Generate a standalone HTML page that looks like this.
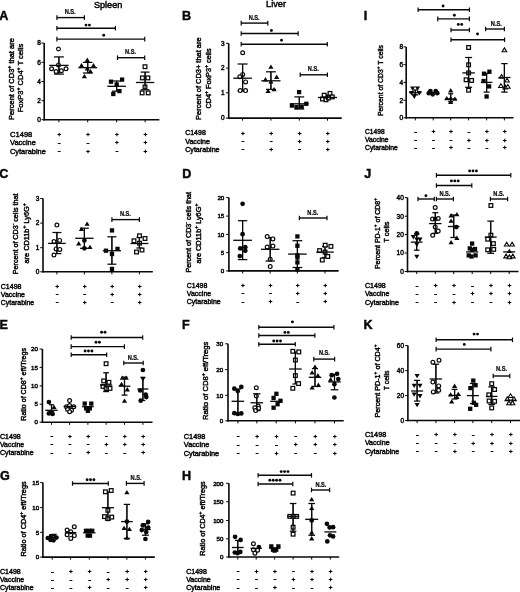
<!DOCTYPE html>
<html><head><meta charset="utf-8"><style>
html,body{margin:0;padding:0;background:#fff;}
body{width:520px;height:592px;overflow:hidden;}
svg{display:block;font-family:"Liberation Sans",sans-serif;filter:grayscale(1) blur(0.3px);}
svg text{fill:#080808;stroke:#080808;stroke-width:0.45px;}
</style></head><body>
<svg width="520" height="592" viewBox="0 0 520 592">
<rect width="520" height="592" fill="#fff"/>
<text x="108.1" y="7.5" font-size="9.25" text-anchor="middle" font-weight="normal" textLength="28.4" lengthAdjust="spacingAndGlyphs" style="stroke-width:0.5px">Spleen</text>
<text x="276.05" y="7.2" font-size="9.5" text-anchor="middle" font-weight="normal" textLength="20.1" lengthAdjust="spacingAndGlyphs" style="stroke-width:0.5px">Liver</text>
<text x="-0.8" y="20.42" font-size="12.6" font-weight="bold" text-anchor="start">A</text>
<g stroke="#080808" fill="none" stroke-linecap="butt">
<line x1="44.2" y1="43.1" x2="44.2" y2="120.5" stroke-width="1.6"/>
<line x1="43.4" y1="119.7" x2="159.4" y2="119.7" stroke-width="1.6"/>
<line x1="41.4" y1="43.1" x2="44.2" y2="43.1" stroke-width="1"/>
<line x1="41.4" y1="62.3" x2="44.2" y2="62.3" stroke-width="1"/>
<line x1="41.4" y1="81.5" x2="44.2" y2="81.5" stroke-width="1"/>
<line x1="41.4" y1="100.7" x2="44.2" y2="100.7" stroke-width="1"/>
<line x1="41.4" y1="119.7" x2="44.2" y2="119.7" stroke-width="1"/>
<line x1="58.9" y1="119.7" x2="58.9" y2="122.3" stroke-width="1"/>
<line x1="87.7" y1="119.7" x2="87.7" y2="122.3" stroke-width="1"/>
<line x1="116.6" y1="119.7" x2="116.6" y2="122.3" stroke-width="1"/>
<line x1="145.1" y1="119.7" x2="145.1" y2="122.3" stroke-width="1"/>
</g>
<text x="40.9" y="45.43" font-size="6.5" text-anchor="end" font-weight="normal">8</text>
<text x="40.9" y="64.63" font-size="6.5" text-anchor="end" font-weight="normal">6</text>
<text x="40.9" y="83.83" font-size="6.5" text-anchor="end" font-weight="normal">4</text>
<text x="40.9" y="103.03" font-size="6.5" text-anchor="end" font-weight="normal">2</text>
<text x="40.9" y="122.03" font-size="6.5" text-anchor="end" font-weight="normal">0</text>
<text transform="translate(13.7,79.05) rotate(-90)" x="-40.95" y="0" font-size="7" textLength="81.9" lengthAdjust="spacingAndGlyphs"><tspan font-size="7" dy="0">Percent of CD3</tspan><tspan font-size="4.76" dy="-2.94">+</tspan><tspan font-size="7" dy="2.94"> that are</tspan></text>
<text transform="translate(23.3,78.05) rotate(-90)" x="-34.25" y="0" font-size="7" textLength="68.5" lengthAdjust="spacingAndGlyphs"><tspan font-size="7" dy="0">FoxP3</tspan><tspan font-size="4.76" dy="-2.94">+</tspan><tspan font-size="7" dy="2.94"> CD4</tspan><tspan font-size="4.76" dy="-2.94">+</tspan><tspan font-size="7" dy="2.94"> T cells</tspan></text>
<text x="10" y="137" font-size="7.4" text-anchor="start" font-weight="normal" textLength="22.3" lengthAdjust="spacingAndGlyphs">C1498</text>
<text x="10" y="145.3" font-size="7.4" text-anchor="start" font-weight="normal" textLength="25.78" lengthAdjust="spacingAndGlyphs">Vaccine</text>
<text x="10" y="153.8" font-size="7.4" text-anchor="start" font-weight="normal" textLength="35.8" lengthAdjust="spacingAndGlyphs">Cytarabine</text>
<g stroke="#080808" stroke-width="1.05"><line x1="57.4" y1="134.5" x2="61" y2="134.5"/><line x1="59.2" y1="132.7" x2="59.2" y2="136.3"/></g>
<g stroke="#080808" stroke-width="1.05"><line x1="86.2" y1="134.5" x2="89.8" y2="134.5"/><line x1="88" y1="132.7" x2="88" y2="136.3"/></g>
<g stroke="#080808" stroke-width="1.05"><line x1="115.1" y1="134.5" x2="118.7" y2="134.5"/><line x1="116.9" y1="132.7" x2="116.9" y2="136.3"/></g>
<g stroke="#080808" stroke-width="1.05"><line x1="143.6" y1="134.5" x2="147.2" y2="134.5"/><line x1="145.4" y1="132.7" x2="145.4" y2="136.3"/></g>
<line x1="57.8" y1="143.5" x2="60.6" y2="143.5" stroke="#080808" stroke-width="1.0"/>
<line x1="86.6" y1="143.5" x2="89.4" y2="143.5" stroke="#080808" stroke-width="1.0"/>
<g stroke="#080808" stroke-width="1.05"><line x1="115.1" y1="142.5" x2="118.7" y2="142.5"/><line x1="116.9" y1="140.7" x2="116.9" y2="144.3"/></g>
<g stroke="#080808" stroke-width="1.05"><line x1="143.6" y1="142.5" x2="147.2" y2="142.5"/><line x1="145.4" y1="140.7" x2="145.4" y2="144.3"/></g>
<line x1="57.8" y1="151.5" x2="60.6" y2="151.5" stroke="#080808" stroke-width="1.0"/>
<g stroke="#080808" stroke-width="1.05"><line x1="86.2" y1="151.5" x2="89.8" y2="151.5"/><line x1="88" y1="149.7" x2="88" y2="153.3"/></g>
<line x1="115.5" y1="151.5" x2="118.3" y2="151.5" stroke="#080808" stroke-width="1.0"/>
<g stroke="#080808" stroke-width="1.05"><line x1="143.6" y1="151.5" x2="147.2" y2="151.5"/><line x1="145.4" y1="149.7" x2="145.4" y2="153.3"/></g>
<g stroke="#080808" fill="none">
<line x1="58.9" y1="56.9" x2="58.9" y2="74.1" stroke-width="1.15"/>
<line x1="53.9" y1="56.9" x2="63.9" y2="56.9" stroke-width="1.25"/>
<line x1="53.9" y1="74.1" x2="63.9" y2="74.1" stroke-width="1.25"/>
</g>
<g stroke="#080808">
<circle cx="58.5" cy="49" r="1.9" fill="#fff" stroke-width="1.2"/>
<circle cx="51.6" cy="68.8" r="1.9" fill="#fff" stroke-width="1.2"/>
<circle cx="56.1" cy="71.5" r="1.9" fill="#fff" stroke-width="1.2"/>
<circle cx="61.4" cy="70.7" r="1.9" fill="#fff" stroke-width="1.2"/>
<circle cx="66" cy="68.8" r="1.9" fill="#fff" stroke-width="1.2"/>
<circle cx="58.5" cy="64.9" r="1.9" fill="#fff" stroke-width="1.2"/>
</g>
<g stroke="#080808" fill="none">
<line x1="49.2" y1="65.4" x2="68.6" y2="65.4" stroke-width="1.3"/>
<line x1="58.9" y1="56.9" x2="58.9" y2="74.1" stroke-width="1.15"/>
</g>
<g stroke="#080808" fill="none">
<line x1="87.7" y1="62.4" x2="87.7" y2="73" stroke-width="1.15"/>
<line x1="82.9" y1="62.4" x2="92.5" y2="62.4" stroke-width="1.25"/>
<line x1="82.9" y1="73" x2="92.5" y2="73" stroke-width="1.25"/>
</g>
<g stroke="#080808">
<polygon points="87.3,57.6 89.9,61.9 84.7,61.9" fill="#080808" stroke="none"/>
<polygon points="81.5,62.9 84.1,67.2 78.9,67.2" fill="#080808" stroke="none"/>
<polygon points="93.5,62.9 96.1,67.2 90.9,67.2" fill="#080808" stroke="none"/>
<polygon points="87.3,66.1 89.9,70.4 84.7,70.4" fill="#080808" stroke="none"/>
<polygon points="90.5,69 93.1,73.3 87.9,73.3" fill="#080808" stroke="none"/>
<polygon points="84.4,74 87,78.3 81.8,78.3" fill="#080808" stroke="none"/>
</g>
<g stroke="#080808" fill="none">
<line x1="78.3" y1="67.7" x2="97.1" y2="67.7" stroke-width="1.3"/>
<line x1="87.7" y1="62.4" x2="87.7" y2="73" stroke-width="1.15"/>
</g>
<g stroke="#080808" fill="none">
<line x1="116.6" y1="81" x2="116.6" y2="91.2" stroke-width="1.15"/>
<line x1="112.1" y1="81" x2="121.1" y2="81" stroke-width="1.25"/>
<line x1="112.1" y1="91.2" x2="121.1" y2="91.2" stroke-width="1.25"/>
</g>
<g stroke="#080808">
<rect x="108.85" y="79.55" width="4.3" height="4.3" fill="#080808" stroke="none"/>
<rect x="119.95" y="77.45" width="4.3" height="4.3" fill="#080808" stroke="none"/>
<rect x="114.55" y="82.35" width="4.3" height="4.3" fill="#080808" stroke="none"/>
<rect x="117.25" y="88.95" width="4.3" height="4.3" fill="#080808" stroke="none"/>
<rect x="111.15" y="91.85" width="4.3" height="4.3" fill="#080808" stroke="none"/>
</g>
<g stroke="#080808" fill="none">
<line x1="107.3" y1="86.3" x2="125.9" y2="86.3" stroke-width="1.3"/>
<line x1="116.6" y1="81" x2="116.6" y2="91.2" stroke-width="1.15"/>
</g>
<g stroke="#080808" fill="none">
<line x1="145.1" y1="72.1" x2="145.1" y2="89.8" stroke-width="1.15"/>
<line x1="140.7" y1="72.1" x2="149.5" y2="72.1" stroke-width="1.25"/>
<line x1="140.7" y1="89.8" x2="149.5" y2="89.8" stroke-width="1.25"/>
</g>
<g stroke="#080808">
<rect x="143.15" y="64.85" width="3.7" height="3.7" fill="#fff" stroke-width="1.25"/>
<rect x="140.55" y="76.05" width="3.7" height="3.7" fill="#fff" stroke-width="1.25"/>
<rect x="146.05" y="76.05" width="3.7" height="3.7" fill="#fff" stroke-width="1.25"/>
<rect x="143.15" y="85.15" width="3.7" height="3.7" fill="#fff" stroke-width="1.25"/>
<rect x="140.25" y="91.05" width="3.7" height="3.7" fill="#fff" stroke-width="1.25"/>
<rect x="146.35" y="91.05" width="3.7" height="3.7" fill="#fff" stroke-width="1.25"/>
</g>
<g stroke="#080808" fill="none">
<line x1="135.9" y1="82.5" x2="154.3" y2="82.5" stroke-width="1.3"/>
<line x1="145.1" y1="72.1" x2="145.1" y2="89.8" stroke-width="1.15"/>
</g>
<g stroke="#080808" fill="none">
<line x1="56.9" y1="17.6" x2="84.4" y2="17.6" stroke-width="1.4"/>
<line x1="56.9" y1="15.3" x2="56.9" y2="19.9" stroke-width="1.2"/>
<line x1="84.4" y1="15.3" x2="84.4" y2="19.9" stroke-width="1.2"/>
</g>
<text x="70.2" y="13.86" font-size="6.3" text-anchor="middle" font-weight="bold" textLength="11" lengthAdjust="spacingAndGlyphs" style="stroke-width:0.2px">N.S.</text>
<g stroke="#080808" fill="none">
<line x1="56.9" y1="28.2" x2="115.4" y2="28.2" stroke-width="1.4"/>
<line x1="56.9" y1="25.9" x2="56.9" y2="30.5" stroke-width="1.2"/>
<line x1="115.4" y1="25.9" x2="115.4" y2="30.5" stroke-width="1.2"/>
</g>
<circle cx="86" cy="25.1" r="1.45" fill="#080808"/>
<circle cx="89.4" cy="25.1" r="1.45" fill="#080808"/>
<g stroke="#080808" fill="none">
<line x1="56.9" y1="39.1" x2="144.7" y2="39.1" stroke-width="1.4"/>
<line x1="56.9" y1="36.8" x2="56.9" y2="41.4" stroke-width="1.2"/>
<line x1="144.7" y1="36.8" x2="144.7" y2="41.4" stroke-width="1.2"/>
</g>
<circle cx="103.7" cy="35.2" r="1.45" fill="#080808"/>
<g stroke="#080808" fill="none">
<line x1="117.5" y1="57.7" x2="144.7" y2="57.7" stroke-width="1.4"/>
<line x1="117.5" y1="55.4" x2="117.5" y2="60" stroke-width="1.2"/>
<line x1="144.7" y1="55.4" x2="144.7" y2="60" stroke-width="1.2"/>
</g>
<text x="130.5" y="53.76" font-size="6.3" text-anchor="middle" font-weight="bold" textLength="11" lengthAdjust="spacingAndGlyphs" style="stroke-width:0.2px">N.S.</text>
<text x="182.1" y="20.22" font-size="12.6" font-weight="bold" text-anchor="start">B</text>
<g stroke="#080808" fill="none" stroke-linecap="butt">
<line x1="228.7" y1="43.3" x2="228.7" y2="118.9" stroke-width="1.6"/>
<line x1="227.9" y1="118.1" x2="341.7" y2="118.1" stroke-width="1.6"/>
<line x1="225.9" y1="43.3" x2="228.7" y2="43.3" stroke-width="1"/>
<line x1="225.9" y1="68.1" x2="228.7" y2="68.1" stroke-width="1"/>
<line x1="225.9" y1="92.8" x2="228.7" y2="92.8" stroke-width="1"/>
<line x1="225.9" y1="118.1" x2="228.7" y2="118.1" stroke-width="1"/>
<line x1="242.6" y1="118.1" x2="242.6" y2="120.7" stroke-width="1"/>
<line x1="270.9" y1="118.1" x2="270.9" y2="120.7" stroke-width="1"/>
<line x1="299.3" y1="118.1" x2="299.3" y2="120.7" stroke-width="1"/>
<line x1="327.5" y1="118.1" x2="327.5" y2="120.7" stroke-width="1"/>
</g>
<text x="224.6" y="45.63" font-size="6.5" text-anchor="end" font-weight="normal">3</text>
<text x="224.6" y="70.43" font-size="6.5" text-anchor="end" font-weight="normal">2</text>
<text x="224.6" y="95.13" font-size="6.5" text-anchor="end" font-weight="normal">1</text>
<text x="224.6" y="120.43" font-size="6.5" text-anchor="end" font-weight="normal">0</text>
<text transform="translate(200.7,78.65) rotate(-90)" x="-41.25" y="0" font-size="7" textLength="82.5" lengthAdjust="spacingAndGlyphs"><tspan font-size="7" dy="0">Percent of  CD3+ that are</tspan></text>
<text transform="translate(210.5,78.5) rotate(-90)" x="-30.1" y="0" font-size="7" textLength="60.2" lengthAdjust="spacingAndGlyphs"><tspan font-size="7" dy="0">CD4</tspan><tspan font-size="4.76" dy="-2.94">+</tspan><tspan font-size="7" dy="2.94"> FoxP3</tspan><tspan font-size="4.76" dy="-2.94">+</tspan><tspan font-size="7" dy="2.94"> cells</tspan></text>
<text x="185.2" y="135.4" font-size="7" text-anchor="start" font-weight="normal" textLength="20.6" lengthAdjust="spacingAndGlyphs">C1498</text>
<text x="185.2" y="143.8" font-size="7" text-anchor="start" font-weight="normal" textLength="24.78" lengthAdjust="spacingAndGlyphs">Vaccine</text>
<text x="185.2" y="151.5" font-size="7" text-anchor="start" font-weight="normal" textLength="34.4" lengthAdjust="spacingAndGlyphs">Cytarabine</text>
<g stroke="#080808" stroke-width="1.05"><line x1="241.1" y1="133.5" x2="244.7" y2="133.5"/><line x1="242.9" y1="131.7" x2="242.9" y2="135.3"/></g>
<g stroke="#080808" stroke-width="1.05"><line x1="269.4" y1="133.5" x2="273" y2="133.5"/><line x1="271.2" y1="131.7" x2="271.2" y2="135.3"/></g>
<g stroke="#080808" stroke-width="1.05"><line x1="297.8" y1="133.5" x2="301.4" y2="133.5"/><line x1="299.6" y1="131.7" x2="299.6" y2="135.3"/></g>
<g stroke="#080808" stroke-width="1.05"><line x1="326" y1="133.5" x2="329.6" y2="133.5"/><line x1="327.8" y1="131.7" x2="327.8" y2="135.3"/></g>
<line x1="241.5" y1="141.5" x2="244.3" y2="141.5" stroke="#080808" stroke-width="1.0"/>
<line x1="269.8" y1="141.5" x2="272.6" y2="141.5" stroke="#080808" stroke-width="1.0"/>
<g stroke="#080808" stroke-width="1.05"><line x1="297.8" y1="141.5" x2="301.4" y2="141.5"/><line x1="299.6" y1="139.7" x2="299.6" y2="143.3"/></g>
<g stroke="#080808" stroke-width="1.05"><line x1="326" y1="141.5" x2="329.6" y2="141.5"/><line x1="327.8" y1="139.7" x2="327.8" y2="143.3"/></g>
<line x1="241.5" y1="149.5" x2="244.3" y2="149.5" stroke="#080808" stroke-width="1.0"/>
<g stroke="#080808" stroke-width="1.05"><line x1="269.4" y1="149.5" x2="273" y2="149.5"/><line x1="271.2" y1="147.7" x2="271.2" y2="151.3"/></g>
<line x1="298.2" y1="149.5" x2="301" y2="149.5" stroke="#080808" stroke-width="1.0"/>
<g stroke="#080808" stroke-width="1.05"><line x1="326" y1="149.5" x2="329.6" y2="149.5"/><line x1="327.8" y1="147.7" x2="327.8" y2="151.3"/></g>
<g stroke="#080808" fill="none">
<line x1="242.6" y1="64" x2="242.6" y2="91" stroke-width="1.15"/>
<line x1="237.6" y1="64" x2="247.6" y2="64" stroke-width="1.25"/>
<line x1="237.6" y1="91" x2="247.6" y2="91" stroke-width="1.25"/>
</g>
<g stroke="#080808">
<circle cx="242.7" cy="52.8" r="1.9" fill="#fff" stroke-width="1.2"/>
<circle cx="242.7" cy="74.4" r="1.9" fill="#fff" stroke-width="1.2"/>
<circle cx="239.8" cy="76.7" r="1.9" fill="#fff" stroke-width="1.2"/>
<circle cx="245.6" cy="81.9" r="1.9" fill="#fff" stroke-width="1.2"/>
<circle cx="240.2" cy="90.6" r="1.9" fill="#fff" stroke-width="1.2"/>
<circle cx="245.6" cy="90.6" r="1.9" fill="#fff" stroke-width="1.2"/>
</g>
<g stroke="#080808" fill="none">
<line x1="233.3" y1="78.2" x2="251.9" y2="78.2" stroke-width="1.3"/>
<line x1="242.6" y1="64" x2="242.6" y2="91" stroke-width="1.15"/>
</g>
<g stroke="#080808" fill="none">
<line x1="270.9" y1="71.8" x2="270.9" y2="89.4" stroke-width="1.15"/>
<line x1="266" y1="71.8" x2="275.8" y2="71.8" stroke-width="1.25"/>
<line x1="266" y1="89.4" x2="275.8" y2="89.4" stroke-width="1.25"/>
</g>
<g stroke="#080808">
<polygon points="270.9,64.4 273.5,68.7 268.3,68.7" fill="#080808" stroke="none"/>
<polygon points="276.7,74.6 279.3,78.9 274.1,78.9" fill="#080808" stroke="none"/>
<polygon points="265.5,77.1 268.1,81.4 262.9,81.4" fill="#080808" stroke="none"/>
<polygon points="270.9,79.2 273.5,83.5 268.3,83.5" fill="#080808" stroke="none"/>
<polygon points="268.1,88.6 270.7,92.9 265.5,92.9" fill="#080808" stroke="none"/>
<polygon points="274.1,86.9 276.7,91.2 271.5,91.2" fill="#080808" stroke="none"/>
</g>
<g stroke="#080808" fill="none">
<line x1="261.3" y1="80.8" x2="280.5" y2="80.8" stroke-width="1.3"/>
<line x1="270.9" y1="71.8" x2="270.9" y2="89.4" stroke-width="1.15"/>
</g>
<g stroke="#080808" fill="none">
<line x1="299.3" y1="96.9" x2="299.3" y2="109" stroke-width="1.15"/>
<line x1="294.4" y1="96.9" x2="304.2" y2="96.9" stroke-width="1.25"/>
<line x1="294.4" y1="109" x2="304.2" y2="109" stroke-width="1.25"/>
</g>
<g stroke="#080808">
<rect x="296.95" y="89.95" width="4.3" height="4.3" fill="#080808" stroke="none"/>
<rect x="289.75" y="103.45" width="4.3" height="4.3" fill="#080808" stroke="none"/>
<rect x="304.15" y="101.65" width="4.3" height="4.3" fill="#080808" stroke="none"/>
<rect x="294.35" y="104.95" width="4.3" height="4.3" fill="#080808" stroke="none"/>
<rect x="299.55" y="104.55" width="4.3" height="4.3" fill="#080808" stroke="none"/>
</g>
<g stroke="#080808" fill="none">
<line x1="290.1" y1="103.8" x2="308.5" y2="103.8" stroke-width="1.3"/>
<line x1="299.3" y1="96.9" x2="299.3" y2="109" stroke-width="1.15"/>
</g>
<g stroke="#080808" fill="none">
<line x1="327.5" y1="95" x2="327.5" y2="99.5" stroke-width="1.15"/>
<line x1="324.5" y1="95" x2="330.5" y2="95" stroke-width="1.25"/>
<line x1="324.5" y1="99.5" x2="330.5" y2="99.5" stroke-width="1.25"/>
</g>
<g stroke="#080808">
<rect x="322.35" y="93.35" width="3.7" height="3.7" fill="#fff" stroke-width="1.25"/>
<rect x="328.15" y="91.55" width="3.7" height="3.7" fill="#fff" stroke-width="1.25"/>
<rect x="330.45" y="95.05" width="3.7" height="3.7" fill="#fff" stroke-width="1.25"/>
<rect x="320.65" y="97.15" width="3.7" height="3.7" fill="#fff" stroke-width="1.25"/>
<rect x="324.15" y="97.95" width="3.7" height="3.7" fill="#fff" stroke-width="1.25"/>
<rect x="326.45" y="96.15" width="3.7" height="3.7" fill="#fff" stroke-width="1.25"/>
</g>
<g stroke="#080808" fill="none">
<line x1="318" y1="97.5" x2="337" y2="97.5" stroke-width="1.3"/>
<line x1="327.5" y1="95" x2="327.5" y2="99.5" stroke-width="1.15"/>
</g>
<g stroke="#080808" fill="none">
<line x1="241.2" y1="23.1" x2="267.8" y2="23.1" stroke-width="1.4"/>
<line x1="241.2" y1="20.8" x2="241.2" y2="25.4" stroke-width="1.2"/>
<line x1="267.8" y1="20.8" x2="267.8" y2="25.4" stroke-width="1.2"/>
</g>
<text x="254.2" y="19.76" font-size="6.3" text-anchor="middle" font-weight="bold" textLength="11" lengthAdjust="spacingAndGlyphs" style="stroke-width:0.2px">N.S.</text>
<g stroke="#080808" fill="none">
<line x1="241.2" y1="33.5" x2="298.2" y2="33.5" stroke-width="1.4"/>
<line x1="241.2" y1="31.2" x2="241.2" y2="35.8" stroke-width="1.2"/>
<line x1="298.2" y1="31.2" x2="298.2" y2="35.8" stroke-width="1.2"/>
</g>
<circle cx="271.4" cy="30.5" r="1.45" fill="#080808"/>
<g stroke="#080808" fill="none">
<line x1="241.2" y1="44.3" x2="327.3" y2="44.3" stroke-width="1.4"/>
<line x1="241.2" y1="42" x2="241.2" y2="46.6" stroke-width="1.2"/>
<line x1="327.3" y1="42" x2="327.3" y2="46.6" stroke-width="1.2"/>
</g>
<circle cx="281.5" cy="40.3" r="1.45" fill="#080808"/>
<g stroke="#080808" fill="none">
<line x1="300.2" y1="74.8" x2="327.4" y2="74.8" stroke-width="1.4"/>
<line x1="300.2" y1="72.5" x2="300.2" y2="77.1" stroke-width="1.2"/>
<line x1="327.4" y1="72.5" x2="327.4" y2="77.1" stroke-width="1.2"/>
</g>
<text x="313.3" y="71.26" font-size="6.3" text-anchor="middle" font-weight="bold" textLength="11" lengthAdjust="spacingAndGlyphs" style="stroke-width:0.2px">N.S.</text>
<text x="365.4" y="20.22" font-size="12.6" font-weight="bold" text-anchor="middle">I</text>
<g stroke="#080808" fill="none" stroke-linecap="butt">
<line x1="406.2" y1="46.9" x2="406.2" y2="118.6" stroke-width="1.6"/>
<line x1="405.4" y1="117.8" x2="513.5" y2="117.8" stroke-width="1.6"/>
<line x1="403.4" y1="46.9" x2="406.2" y2="46.9" stroke-width="1"/>
<line x1="403.4" y1="64.7" x2="406.2" y2="64.7" stroke-width="1"/>
<line x1="403.4" y1="82.4" x2="406.2" y2="82.4" stroke-width="1"/>
<line x1="403.4" y1="100.3" x2="406.2" y2="100.3" stroke-width="1"/>
<line x1="403.4" y1="117.8" x2="406.2" y2="117.8" stroke-width="1"/>
<line x1="415.3" y1="117.8" x2="415.3" y2="120.4" stroke-width="1"/>
<line x1="433.2" y1="117.8" x2="433.2" y2="120.4" stroke-width="1"/>
<line x1="450.7" y1="117.8" x2="450.7" y2="120.4" stroke-width="1"/>
<line x1="468.6" y1="117.8" x2="468.6" y2="120.4" stroke-width="1"/>
<line x1="486.6" y1="117.8" x2="486.6" y2="120.4" stroke-width="1"/>
<line x1="504.4" y1="117.8" x2="504.4" y2="120.4" stroke-width="1"/>
</g>
<text x="403.2" y="49.23" font-size="6.5" text-anchor="end" font-weight="normal">8</text>
<text x="403.2" y="67.03" font-size="6.5" text-anchor="end" font-weight="normal">6</text>
<text x="403.2" y="84.73" font-size="6.5" text-anchor="end" font-weight="normal">4</text>
<text x="403.2" y="102.63" font-size="6.5" text-anchor="end" font-weight="normal">2</text>
<text x="403.2" y="120.13" font-size="6.5" text-anchor="end" font-weight="normal">0</text>
<text transform="translate(383.1,80.55) rotate(-90)" x="-35.55" y="0" font-size="7" textLength="71.1" lengthAdjust="spacingAndGlyphs"><tspan font-size="7" dy="0">Percent of CD3</tspan><tspan font-size="4.76" dy="-2.94">+</tspan><tspan font-size="7" dy="2.94"> T cells</tspan></text>
<text x="365.1" y="134.2" font-size="6.8" text-anchor="start" font-weight="normal" textLength="19.5" lengthAdjust="spacingAndGlyphs">C1498</text>
<text x="365.1" y="142.3" font-size="6.8" text-anchor="start" font-weight="normal" textLength="23.48" lengthAdjust="spacingAndGlyphs">Vaccine</text>
<text x="365.1" y="150" font-size="6.8" text-anchor="start" font-weight="normal" textLength="32.6" lengthAdjust="spacingAndGlyphs">Cytarabine</text>
<line x1="414.2" y1="132.5" x2="417" y2="132.5" stroke="#080808" stroke-width="1.0"/>
<g stroke="#080808" stroke-width="1.05"><line x1="431.7" y1="131.5" x2="435.3" y2="131.5"/><line x1="433.5" y1="129.7" x2="433.5" y2="133.3"/></g>
<g stroke="#080808" stroke-width="1.05"><line x1="449.2" y1="131.5" x2="452.8" y2="131.5"/><line x1="451" y1="129.7" x2="451" y2="133.3"/></g>
<line x1="467.5" y1="132.5" x2="470.3" y2="132.5" stroke="#080808" stroke-width="1.0"/>
<g stroke="#080808" stroke-width="1.05"><line x1="485.1" y1="131.5" x2="488.7" y2="131.5"/><line x1="486.9" y1="129.7" x2="486.9" y2="133.3"/></g>
<g stroke="#080808" stroke-width="1.05"><line x1="502.9" y1="131.5" x2="506.5" y2="131.5"/><line x1="504.7" y1="129.7" x2="504.7" y2="133.3"/></g>
<line x1="414.2" y1="140.5" x2="417" y2="140.5" stroke="#080808" stroke-width="1.0"/>
<line x1="432.1" y1="140.5" x2="434.9" y2="140.5" stroke="#080808" stroke-width="1.0"/>
<line x1="449.6" y1="140.5" x2="452.4" y2="140.5" stroke="#080808" stroke-width="1.0"/>
<g stroke="#080808" stroke-width="1.05"><line x1="467.1" y1="140.5" x2="470.7" y2="140.5"/><line x1="468.9" y1="138.7" x2="468.9" y2="142.3"/></g>
<g stroke="#080808" stroke-width="1.05"><line x1="485.1" y1="140.5" x2="488.7" y2="140.5"/><line x1="486.9" y1="138.7" x2="486.9" y2="142.3"/></g>
<g stroke="#080808" stroke-width="1.05"><line x1="502.9" y1="140.5" x2="506.5" y2="140.5"/><line x1="504.7" y1="138.7" x2="504.7" y2="142.3"/></g>
<line x1="414.2" y1="148.5" x2="417" y2="148.5" stroke="#080808" stroke-width="1.0"/>
<line x1="432.1" y1="148.5" x2="434.9" y2="148.5" stroke="#080808" stroke-width="1.0"/>
<g stroke="#080808" stroke-width="1.05"><line x1="449.2" y1="147.5" x2="452.8" y2="147.5"/><line x1="451" y1="145.7" x2="451" y2="149.3"/></g>
<line x1="467.5" y1="148.5" x2="470.3" y2="148.5" stroke="#080808" stroke-width="1.0"/>
<line x1="485.5" y1="148.5" x2="488.3" y2="148.5" stroke="#080808" stroke-width="1.0"/>
<g stroke="#080808" stroke-width="1.05"><line x1="502.9" y1="147.5" x2="506.5" y2="147.5"/><line x1="504.7" y1="145.7" x2="504.7" y2="149.3"/></g>
<g stroke="#080808" fill="none">
<line x1="415.3" y1="90" x2="415.3" y2="94.8" stroke-width="1.15"/>
<line x1="412.3" y1="90" x2="418.3" y2="90" stroke-width="1.25"/>
<line x1="412.3" y1="94.8" x2="418.3" y2="94.8" stroke-width="1.25"/>
</g>
<g stroke="#080808">
<polygon points="410,86.5 415.2,86.5 412.6,90.8" fill="#080808" stroke="none"/>
<polygon points="414.9,86.5 420.1,86.5 417.5,90.8" fill="#080808" stroke="none"/>
<polygon points="409,91.1 414.2,91.1 411.6,95.4" fill="#080808" stroke="none"/>
<polygon points="416.7,91.1 421.9,91.1 419.3,95.4" fill="#080808" stroke="none"/>
<polygon points="411.7,94.6 416.9,94.6 414.3,98.9" fill="#080808" stroke="none"/>
</g>
<g stroke="#080808" fill="none">
<line x1="409.2" y1="92.7" x2="421.4" y2="92.7" stroke-width="1.3"/>
<line x1="415.3" y1="90" x2="415.3" y2="94.8" stroke-width="1.15"/>
</g>
<g stroke="#080808" fill="none">
</g>
<g stroke="#080808">
<circle cx="430.4" cy="91.1" r="2.35" fill="#080808" stroke="none"/>
<circle cx="435.7" cy="91.1" r="2.35" fill="#080808" stroke="none"/>
<circle cx="428.8" cy="93.2" r="2.35" fill="#080808" stroke="none"/>
<circle cx="437.3" cy="93.2" r="2.35" fill="#080808" stroke="none"/>
<circle cx="432.7" cy="94.3" r="2.35" fill="#080808" stroke="none"/>
</g>
<g stroke="#080808" fill="none">
<line x1="427.7" y1="92.5" x2="438.7" y2="92.5" stroke-width="1.3"/>
</g>
<g stroke="#080808" fill="none">
<line x1="450.7" y1="93.8" x2="450.7" y2="101.7" stroke-width="1.15"/>
<line x1="448.2" y1="93.8" x2="453.2" y2="93.8" stroke-width="1.25"/>
<line x1="448.2" y1="101.7" x2="453.2" y2="101.7" stroke-width="1.25"/>
</g>
<g stroke="#080808">
<polygon points="450.7,88.1 453.3,92.4 448.1,92.4" fill="#080808" stroke="none"/>
<polygon points="446.8,96 449.4,100.3 444.2,100.3" fill="#080808" stroke="none"/>
<polygon points="454.9,96.5 457.5,100.8 452.3,100.8" fill="#080808" stroke="none"/>
<polygon points="450.7,96 453.3,100.3 448.1,100.3" fill="#080808" stroke="none"/>
<polygon points="450.7,99.8 453.3,104.1 448.1,104.1" fill="#080808" stroke="none"/>
</g>
<g stroke="#080808" fill="none">
<line x1="444.9" y1="99" x2="456.5" y2="99" stroke-width="1.3"/>
<line x1="450.7" y1="93.8" x2="450.7" y2="101.7" stroke-width="1.15"/>
</g>
<g stroke="#080808" fill="none">
<line x1="468.6" y1="57.5" x2="468.6" y2="87.3" stroke-width="1.15"/>
<line x1="465.1" y1="57.5" x2="472.1" y2="57.5" stroke-width="1.25"/>
<line x1="465.1" y1="87.3" x2="472.1" y2="87.3" stroke-width="1.25"/>
</g>
<g stroke="#080808">
<rect x="466.75" y="45.65" width="3.7" height="3.7" fill="#fff" stroke-width="1.25"/>
<rect x="466.75" y="62.95" width="3.7" height="3.7" fill="#fff" stroke-width="1.25"/>
<rect x="466.75" y="71.05" width="3.7" height="3.7" fill="#fff" stroke-width="1.25"/>
<rect x="464.25" y="77.95" width="3.7" height="3.7" fill="#fff" stroke-width="1.25"/>
<rect x="469.75" y="78.55" width="3.7" height="3.7" fill="#fff" stroke-width="1.25"/>
<rect x="466.75" y="88.35" width="3.7" height="3.7" fill="#fff" stroke-width="1.25"/>
</g>
<g stroke="#080808" fill="none">
<line x1="462.4" y1="72.9" x2="474.8" y2="72.9" stroke-width="1.3"/>
<line x1="468.6" y1="57.5" x2="468.6" y2="87.3" stroke-width="1.15"/>
</g>
<g stroke="#080808" fill="none">
<line x1="486.6" y1="73.4" x2="486.6" y2="92.1" stroke-width="1.15"/>
<line x1="483.6" y1="73.4" x2="489.6" y2="73.4" stroke-width="1.25"/>
<line x1="483.6" y1="92.1" x2="489.6" y2="92.1" stroke-width="1.25"/>
</g>
<g stroke="#080808">
<rect x="487.25" y="69.55" width="4.3" height="4.3" fill="#080808" stroke="none"/>
<rect x="481.85" y="71.55" width="4.3" height="4.3" fill="#080808" stroke="none"/>
<rect x="481.45" y="78.85" width="4.3" height="4.3" fill="#080808" stroke="none"/>
<rect x="486.95" y="84.25" width="4.3" height="4.3" fill="#080808" stroke="none"/>
<rect x="484.45" y="94.35" width="4.3" height="4.3" fill="#080808" stroke="none"/>
</g>
<g stroke="#080808" fill="none">
<line x1="480.8" y1="82.4" x2="492.4" y2="82.4" stroke-width="1.3"/>
<line x1="486.6" y1="73.4" x2="486.6" y2="92.1" stroke-width="1.15"/>
</g>
<g stroke="#080808" fill="none">
<line x1="504.4" y1="63.6" x2="504.4" y2="92.1" stroke-width="1.15"/>
<line x1="501.2" y1="63.6" x2="507.6" y2="63.6" stroke-width="1.25"/>
<line x1="501.2" y1="92.1" x2="507.6" y2="92.1" stroke-width="1.25"/>
</g>
<g stroke="#080808">
<polygon points="504.4,47.9 506.7,51.7 502.1,51.7" fill="#fff" stroke-width="1.1" stroke-linejoin="miter"/>
<polygon points="501.6,74.5 503.9,78.3 499.3,78.3" fill="#fff" stroke-width="1.1" stroke-linejoin="miter"/>
<polygon points="507,78.2 509.3,82 504.7,82" fill="#fff" stroke-width="1.1" stroke-linejoin="miter"/>
<polygon points="500.9,83.7 503.2,87.5 498.6,87.5" fill="#fff" stroke-width="1.1" stroke-linejoin="miter"/>
<polygon points="505.3,85.1 507.6,88.9 503,88.9" fill="#fff" stroke-width="1.1" stroke-linejoin="miter"/>
<polygon points="507.8,84.5 510.1,88.3 505.5,88.3" fill="#fff" stroke-width="1.1" stroke-linejoin="miter"/>
</g>
<g stroke="#080808" fill="none">
<line x1="498.4" y1="77.5" x2="510.4" y2="77.5" stroke-width="1.3"/>
<line x1="504.4" y1="63.6" x2="504.4" y2="92.1" stroke-width="1.15"/>
</g>
<g stroke="#080808" fill="none">
<line x1="418.1" y1="9.75" x2="469.4" y2="9.75" stroke-width="1.4"/>
<line x1="418.1" y1="7.45" x2="418.1" y2="12.05" stroke-width="1.2"/>
<line x1="469.4" y1="7.45" x2="469.4" y2="12.05" stroke-width="1.2"/>
</g>
<circle cx="443.1" cy="6" r="1.45" fill="#080808"/>
<g stroke="#080808" fill="none">
<line x1="437.75" y1="18.9" x2="469.4" y2="18.9" stroke-width="1.4"/>
<line x1="437.75" y1="16.6" x2="437.75" y2="21.2" stroke-width="1.2"/>
<line x1="469.4" y1="16.6" x2="469.4" y2="21.2" stroke-width="1.2"/>
</g>
<circle cx="454.4" cy="15.25" r="1.45" fill="#080808"/>
<g stroke="#080808" fill="none">
<line x1="451" y1="30" x2="469.4" y2="30" stroke-width="1.4"/>
<line x1="451" y1="27.7" x2="451" y2="32.3" stroke-width="1.2"/>
<line x1="469.4" y1="27.7" x2="469.4" y2="32.3" stroke-width="1.2"/>
</g>
<circle cx="458.3" cy="24.4" r="1.45" fill="#080808"/>
<circle cx="461.7" cy="24.4" r="1.45" fill="#080808"/>
<g stroke="#080808" fill="none">
<line x1="485.6" y1="29" x2="504.4" y2="29" stroke-width="1.4"/>
<line x1="485.6" y1="26.7" x2="485.6" y2="31.3" stroke-width="1.2"/>
<line x1="504.4" y1="26.7" x2="504.4" y2="31.3" stroke-width="1.2"/>
</g>
<text x="496.3" y="26.01" font-size="6.3" text-anchor="middle" font-weight="bold" textLength="11" lengthAdjust="spacingAndGlyphs" style="stroke-width:0.2px">N.S.</text>
<g stroke="#080808" fill="none">
<line x1="451" y1="39.75" x2="504.6" y2="39.75" stroke-width="1.4"/>
<line x1="451" y1="37.45" x2="451" y2="42.05" stroke-width="1.2"/>
<line x1="504.6" y1="37.45" x2="504.6" y2="42.05" stroke-width="1.2"/>
</g>
<circle cx="477.5" cy="34" r="1.45" fill="#080808"/>
<text x="-0.7" y="178.32" font-size="12.6" font-weight="bold" text-anchor="start">C</text>
<g stroke="#080808" fill="none" stroke-linecap="butt">
<line x1="43" y1="198.5" x2="43" y2="272.6" stroke-width="1.6"/>
<line x1="42.2" y1="271.8" x2="152.8" y2="271.8" stroke-width="1.6"/>
<line x1="40.2" y1="198.5" x2="43" y2="198.5" stroke-width="1"/>
<line x1="40.2" y1="223.1" x2="43" y2="223.1" stroke-width="1"/>
<line x1="40.2" y1="247.7" x2="43" y2="247.7" stroke-width="1"/>
<line x1="40.2" y1="271.8" x2="43" y2="271.8" stroke-width="1"/>
<line x1="56.9" y1="271.8" x2="56.9" y2="274.4" stroke-width="1"/>
<line x1="84.4" y1="271.8" x2="84.4" y2="274.4" stroke-width="1"/>
<line x1="111.9" y1="271.8" x2="111.9" y2="274.4" stroke-width="1"/>
<line x1="139.4" y1="271.8" x2="139.4" y2="274.4" stroke-width="1"/>
</g>
<text x="39.3" y="200.83" font-size="6.5" text-anchor="end" font-weight="normal">3</text>
<text x="39.3" y="225.43" font-size="6.5" text-anchor="end" font-weight="normal">2</text>
<text x="39.3" y="250.03" font-size="6.5" text-anchor="end" font-weight="normal">1</text>
<text x="39.3" y="274.13" font-size="6.5" text-anchor="end" font-weight="normal">0</text>
<text transform="translate(18.1,233.85) rotate(-90)" x="-40.35" y="0" font-size="7" textLength="80.7" lengthAdjust="spacingAndGlyphs"><tspan font-size="7" dy="0">Percent of CD3</tspan><tspan font-size="4.76" dy="-2.94">-</tspan><tspan font-size="7" dy="2.94"> cells that</tspan></text>
<text transform="translate(28.5,233.45) rotate(-90)" x="-30.05" y="0" font-size="7" textLength="60.1" lengthAdjust="spacingAndGlyphs"><tspan font-size="7" dy="0">are CD11b</tspan><tspan font-size="4.76" dy="-2.94">+</tspan><tspan font-size="7" dy="2.94"> Ly6G</tspan><tspan font-size="4.76" dy="-2.94">+</tspan></text>
<text x="0.8" y="288.8" font-size="7" text-anchor="start" font-weight="normal" textLength="20.7" lengthAdjust="spacingAndGlyphs">C1498</text>
<text x="0.8" y="296.5" font-size="7" text-anchor="start" font-weight="normal" textLength="24.06" lengthAdjust="spacingAndGlyphs">Vaccine</text>
<text x="0.8" y="304.5" font-size="7" text-anchor="start" font-weight="normal" textLength="33.4" lengthAdjust="spacingAndGlyphs">Cytarabine</text>
<g stroke="#080808" stroke-width="1.05"><line x1="55.4" y1="286.5" x2="59" y2="286.5"/><line x1="57.2" y1="284.7" x2="57.2" y2="288.3"/></g>
<g stroke="#080808" stroke-width="1.05"><line x1="82.9" y1="286.5" x2="86.5" y2="286.5"/><line x1="84.7" y1="284.7" x2="84.7" y2="288.3"/></g>
<g stroke="#080808" stroke-width="1.05"><line x1="110.4" y1="286.5" x2="114" y2="286.5"/><line x1="112.2" y1="284.7" x2="112.2" y2="288.3"/></g>
<g stroke="#080808" stroke-width="1.05"><line x1="137.9" y1="286.5" x2="141.5" y2="286.5"/><line x1="139.7" y1="284.7" x2="139.7" y2="288.3"/></g>
<line x1="55.8" y1="294.5" x2="58.6" y2="294.5" stroke="#080808" stroke-width="1.0"/>
<line x1="83.3" y1="294.5" x2="86.1" y2="294.5" stroke="#080808" stroke-width="1.0"/>
<g stroke="#080808" stroke-width="1.05"><line x1="110.4" y1="294.5" x2="114" y2="294.5"/><line x1="112.2" y1="292.7" x2="112.2" y2="296.3"/></g>
<g stroke="#080808" stroke-width="1.05"><line x1="137.9" y1="294.5" x2="141.5" y2="294.5"/><line x1="139.7" y1="292.7" x2="139.7" y2="296.3"/></g>
<line x1="55.8" y1="302.5" x2="58.6" y2="302.5" stroke="#080808" stroke-width="1.0"/>
<g stroke="#080808" stroke-width="1.05"><line x1="82.9" y1="302.5" x2="86.5" y2="302.5"/><line x1="84.7" y1="300.7" x2="84.7" y2="304.3"/></g>
<line x1="110.8" y1="302.5" x2="113.6" y2="302.5" stroke="#080808" stroke-width="1.0"/>
<g stroke="#080808" stroke-width="1.05"><line x1="137.9" y1="302.5" x2="141.5" y2="302.5"/><line x1="139.7" y1="300.7" x2="139.7" y2="304.3"/></g>
<g stroke="#080808" fill="none">
<line x1="56.9" y1="232.5" x2="56.9" y2="253.6" stroke-width="1.15"/>
<line x1="52.4" y1="232.5" x2="61.4" y2="232.5" stroke-width="1.25"/>
<line x1="52.4" y1="253.6" x2="61.4" y2="253.6" stroke-width="1.25"/>
</g>
<g stroke="#080808">
<circle cx="56.9" cy="225.1" r="1.9" fill="#fff" stroke-width="1.2"/>
<circle cx="54" cy="241.5" r="1.9" fill="#fff" stroke-width="1.2"/>
<circle cx="59.6" cy="240.4" r="1.9" fill="#fff" stroke-width="1.2"/>
<circle cx="56.1" cy="248.9" r="1.9" fill="#fff" stroke-width="1.2"/>
<circle cx="59.8" cy="249.4" r="1.9" fill="#fff" stroke-width="1.2"/>
<circle cx="54" cy="255" r="1.9" fill="#fff" stroke-width="1.2"/>
</g>
<g stroke="#080808" fill="none">
<line x1="48.1" y1="243.4" x2="65.7" y2="243.4" stroke-width="1.3"/>
<line x1="56.9" y1="232.5" x2="56.9" y2="253.6" stroke-width="1.15"/>
</g>
<g stroke="#080808" fill="none">
<line x1="84.4" y1="228.2" x2="84.4" y2="248.3" stroke-width="1.15"/>
<line x1="80" y1="228.2" x2="88.8" y2="228.2" stroke-width="1.25"/>
<line x1="80" y1="248.3" x2="88.8" y2="248.3" stroke-width="1.25"/>
</g>
<g stroke="#080808">
<polygon points="87.1,221.5 89.7,225.8 84.5,225.8" fill="#080808" stroke="none"/>
<polygon points="81.5,226.8 84.1,231.1 78.9,231.1" fill="#080808" stroke="none"/>
<circle cx="84.4" cy="240.4" r="2.35" fill="#080808" stroke="none"/>
<polygon points="78.7,241.1 81.3,245.4 76.1,245.4" fill="#080808" stroke="none"/>
<polygon points="90,244.8 92.6,249.1 87.4,249.1" fill="#080808" stroke="none"/>
<circle cx="84.4" cy="248.3" r="2.35" fill="#080808" stroke="none"/>
</g>
<g stroke="#080808" fill="none">
<line x1="75.2" y1="238.3" x2="93.6" y2="238.3" stroke-width="1.3"/>
<line x1="84.4" y1="228.2" x2="84.4" y2="248.3" stroke-width="1.15"/>
</g>
<g stroke="#080808" fill="none">
<line x1="111.9" y1="236.8" x2="111.9" y2="264.2" stroke-width="1.15"/>
<line x1="107.4" y1="236.8" x2="116.4" y2="236.8" stroke-width="1.25"/>
<line x1="107.4" y1="264.2" x2="116.4" y2="264.2" stroke-width="1.25"/>
</g>
<g stroke="#080808">
<rect x="109.85" y="228.25" width="4.3" height="4.3" fill="#080808" stroke="none"/>
<rect x="103.85" y="248.55" width="4.3" height="4.3" fill="#080808" stroke="none"/>
<rect x="115.35" y="246.75" width="4.3" height="4.3" fill="#080808" stroke="none"/>
<rect x="109.85" y="251.85" width="4.3" height="4.3" fill="#080808" stroke="none"/>
<rect x="109.85" y="266.75" width="4.3" height="4.3" fill="#080808" stroke="none"/>
</g>
<g stroke="#080808" fill="none">
<line x1="102.8" y1="250.7" x2="121" y2="250.7" stroke-width="1.3"/>
<line x1="111.9" y1="236.8" x2="111.9" y2="264.2" stroke-width="1.15"/>
</g>
<g stroke="#080808" fill="none">
<line x1="139.4" y1="237.2" x2="139.4" y2="248" stroke-width="1.15"/>
<line x1="136.4" y1="237.2" x2="142.4" y2="237.2" stroke-width="1.25"/>
<line x1="136.4" y1="248" x2="142.4" y2="248" stroke-width="1.25"/>
</g>
<g stroke="#080808">
<rect x="137.65" y="233.95" width="3.7" height="3.7" fill="#fff" stroke-width="1.25"/>
<rect x="143.15" y="236.65" width="3.7" height="3.7" fill="#fff" stroke-width="1.25"/>
<rect x="132.15" y="238.95" width="3.7" height="3.7" fill="#fff" stroke-width="1.25"/>
<rect x="137.65" y="241.35" width="3.7" height="3.7" fill="#fff" stroke-width="1.25"/>
<rect x="134.65" y="250.15" width="3.7" height="3.7" fill="#fff" stroke-width="1.25"/>
<rect x="140.15" y="248.15" width="3.7" height="3.7" fill="#fff" stroke-width="1.25"/>
</g>
<g stroke="#080808" fill="none">
<line x1="130.4" y1="243.5" x2="148.4" y2="243.5" stroke-width="1.3"/>
<line x1="139.4" y1="237.2" x2="139.4" y2="248" stroke-width="1.15"/>
</g>
<g stroke="#080808" fill="none">
<line x1="111.9" y1="219.6" x2="139.4" y2="219.6" stroke-width="1.4"/>
<line x1="111.9" y1="217.3" x2="111.9" y2="221.9" stroke-width="1.2"/>
<line x1="139.4" y1="217.3" x2="139.4" y2="221.9" stroke-width="1.2"/>
</g>
<text x="125.4" y="215.76" font-size="6.3" text-anchor="middle" font-weight="bold" textLength="11" lengthAdjust="spacingAndGlyphs" style="stroke-width:0.2px">N.S.</text>
<text x="182.3" y="178.42" font-size="12.6" font-weight="bold" text-anchor="start">D</text>
<g stroke="#080808" fill="none" stroke-linecap="butt">
<line x1="228.9" y1="197.6" x2="228.9" y2="271.7" stroke-width="1.6"/>
<line x1="228.1" y1="270.9" x2="338.6" y2="270.9" stroke-width="1.6"/>
<line x1="226.1" y1="197.6" x2="228.9" y2="197.6" stroke-width="1"/>
<line x1="226.1" y1="216.1" x2="228.9" y2="216.1" stroke-width="1"/>
<line x1="226.1" y1="234.4" x2="228.9" y2="234.4" stroke-width="1"/>
<line x1="226.1" y1="252.6" x2="228.9" y2="252.6" stroke-width="1"/>
<line x1="226.1" y1="270.9" x2="228.9" y2="270.9" stroke-width="1"/>
<line x1="242.6" y1="270.9" x2="242.6" y2="273.5" stroke-width="1"/>
<line x1="270.2" y1="270.9" x2="270.2" y2="273.5" stroke-width="1"/>
<line x1="297.4" y1="270.9" x2="297.4" y2="273.5" stroke-width="1"/>
<line x1="325" y1="270.9" x2="325" y2="273.5" stroke-width="1"/>
</g>
<text x="224.3" y="199.82" font-size="6.2" text-anchor="end" font-weight="normal">20</text>
<text x="224.3" y="218.32" font-size="6.2" text-anchor="end" font-weight="normal">15</text>
<text x="224.3" y="236.62" font-size="6.2" text-anchor="end" font-weight="normal">10</text>
<text x="224.3" y="254.82" font-size="6.2" text-anchor="end" font-weight="normal">5</text>
<text x="224.3" y="273.12" font-size="6.2" text-anchor="end" font-weight="normal">0</text>
<text transform="translate(190.8,232.25) rotate(-90)" x="-40.35" y="0" font-size="7" textLength="80.7" lengthAdjust="spacingAndGlyphs"><tspan font-size="7" dy="0">Percent of CD3</tspan><tspan font-size="4.76" dy="-2.94">-</tspan><tspan font-size="7" dy="2.94"> cells that</tspan></text>
<text transform="translate(200.5,233.65) rotate(-90)" x="-29.95" y="0" font-size="7" textLength="59.9" lengthAdjust="spacingAndGlyphs"><tspan font-size="7" dy="0">are CD11b</tspan><tspan font-size="4.76" dy="-2.94">+</tspan><tspan font-size="7" dy="2.94"> Ly6G</tspan><tspan font-size="4.76" dy="-2.94">+</tspan></text>
<text x="186.8" y="287.6" font-size="7" text-anchor="start" font-weight="normal" textLength="20.5" lengthAdjust="spacingAndGlyphs">C1498</text>
<text x="186.8" y="295.8" font-size="7" text-anchor="start" font-weight="normal" textLength="24.42" lengthAdjust="spacingAndGlyphs">Vaccine</text>
<text x="186.8" y="303.9" font-size="7" text-anchor="start" font-weight="normal" textLength="33.9" lengthAdjust="spacingAndGlyphs">Cytarabine</text>
<g stroke="#080808" stroke-width="1.05"><line x1="241.1" y1="285.5" x2="244.7" y2="285.5"/><line x1="242.9" y1="283.7" x2="242.9" y2="287.3"/></g>
<g stroke="#080808" stroke-width="1.05"><line x1="268.7" y1="285.5" x2="272.3" y2="285.5"/><line x1="270.5" y1="283.7" x2="270.5" y2="287.3"/></g>
<g stroke="#080808" stroke-width="1.05"><line x1="295.9" y1="285.5" x2="299.5" y2="285.5"/><line x1="297.7" y1="283.7" x2="297.7" y2="287.3"/></g>
<g stroke="#080808" stroke-width="1.05"><line x1="323.5" y1="285.5" x2="327.1" y2="285.5"/><line x1="325.3" y1="283.7" x2="325.3" y2="287.3"/></g>
<line x1="241.5" y1="293.5" x2="244.3" y2="293.5" stroke="#080808" stroke-width="1.0"/>
<line x1="269.1" y1="293.5" x2="271.9" y2="293.5" stroke="#080808" stroke-width="1.0"/>
<g stroke="#080808" stroke-width="1.05"><line x1="295.9" y1="293.5" x2="299.5" y2="293.5"/><line x1="297.7" y1="291.7" x2="297.7" y2="295.3"/></g>
<g stroke="#080808" stroke-width="1.05"><line x1="323.5" y1="293.5" x2="327.1" y2="293.5"/><line x1="325.3" y1="291.7" x2="325.3" y2="295.3"/></g>
<line x1="241.5" y1="302.5" x2="244.3" y2="302.5" stroke="#080808" stroke-width="1.0"/>
<g stroke="#080808" stroke-width="1.05"><line x1="268.7" y1="301.5" x2="272.3" y2="301.5"/><line x1="270.5" y1="299.7" x2="270.5" y2="303.3"/></g>
<line x1="296.3" y1="302.5" x2="299.1" y2="302.5" stroke="#080808" stroke-width="1.0"/>
<g stroke="#080808" stroke-width="1.05"><line x1="323.5" y1="301.5" x2="327.1" y2="301.5"/><line x1="325.3" y1="299.7" x2="325.3" y2="303.3"/></g>
<g stroke="#080808" fill="none">
<line x1="242.6" y1="220.7" x2="242.6" y2="259.6" stroke-width="1.15"/>
<line x1="237.9" y1="220.7" x2="247.3" y2="220.7" stroke-width="1.25"/>
<line x1="237.9" y1="259.6" x2="247.3" y2="259.6" stroke-width="1.25"/>
</g>
<g stroke="#080808">
<circle cx="242.6" cy="203.8" r="2.35" fill="#080808" stroke="none"/>
<circle cx="242.6" cy="234.2" r="2.35" fill="#080808" stroke="none"/>
<circle cx="240.2" cy="248.4" r="2.35" fill="#080808" stroke="none"/>
<circle cx="245.3" cy="247.2" r="2.35" fill="#080808" stroke="none"/>
<circle cx="245.3" cy="250.8" r="2.35" fill="#080808" stroke="none"/>
<circle cx="239.8" cy="256.1" r="2.35" fill="#080808" stroke="none"/>
</g>
<g stroke="#080808" fill="none">
<line x1="233.3" y1="240.3" x2="251.9" y2="240.3" stroke-width="1.3"/>
<line x1="242.6" y1="220.7" x2="242.6" y2="259.6" stroke-width="1.15"/>
</g>
<g stroke="#080808" fill="none">
<line x1="270.2" y1="237.5" x2="270.2" y2="261" stroke-width="1.15"/>
<line x1="265.5" y1="237.5" x2="274.9" y2="237.5" stroke-width="1.25"/>
<line x1="265.5" y1="261" x2="274.9" y2="261" stroke-width="1.25"/>
</g>
<g stroke="#080808">
<circle cx="267.2" cy="236.6" r="1.9" fill="#fff" stroke-width="1.2"/>
<circle cx="272.9" cy="238.9" r="1.9" fill="#fff" stroke-width="1.2"/>
<circle cx="267.2" cy="247" r="1.9" fill="#fff" stroke-width="1.2"/>
<circle cx="272.9" cy="246.1" r="1.9" fill="#fff" stroke-width="1.2"/>
<circle cx="270.2" cy="259.2" r="1.9" fill="#fff" stroke-width="1.2"/>
<circle cx="270.2" cy="266.6" r="1.9" fill="#fff" stroke-width="1.2"/>
</g>
<g stroke="#080808" fill="none">
<line x1="261" y1="249.3" x2="279.4" y2="249.3" stroke-width="1.3"/>
<line x1="270.2" y1="237.5" x2="270.2" y2="261" stroke-width="1.15"/>
</g>
<g stroke="#080808" fill="none">
<line x1="297.4" y1="240.7" x2="297.4" y2="267.5" stroke-width="1.15"/>
<line x1="292.5" y1="240.7" x2="302.3" y2="240.7" stroke-width="1.25"/>
<line x1="292.5" y1="267.5" x2="302.3" y2="267.5" stroke-width="1.25"/>
</g>
<g stroke="#080808">
<rect x="295.25" y="234.25" width="4.3" height="4.3" fill="#080808" stroke="none"/>
<rect x="295.25" y="243.65" width="4.3" height="4.3" fill="#080808" stroke="none"/>
<rect x="295.25" y="253.05" width="4.3" height="4.3" fill="#080808" stroke="none"/>
<rect x="295.25" y="255.35" width="4.3" height="4.3" fill="#080808" stroke="none"/>
<rect x="295.25" y="260.25" width="4.3" height="4.3" fill="#080808" stroke="none"/>
<rect x="295.25" y="267.35" width="4.3" height="4.3" fill="#080808" stroke="none"/>
</g>
<g stroke="#080808" fill="none">
<line x1="288.1" y1="254.1" x2="306.7" y2="254.1" stroke-width="1.3"/>
<line x1="297.4" y1="240.7" x2="297.4" y2="267.5" stroke-width="1.15"/>
</g>
<g stroke="#080808" fill="none">
<line x1="325" y1="246.4" x2="325" y2="257.5" stroke-width="1.15"/>
<line x1="322" y1="246.4" x2="328" y2="246.4" stroke-width="1.25"/>
<line x1="322" y1="257.5" x2="328" y2="257.5" stroke-width="1.25"/>
</g>
<g stroke="#080808">
<rect x="323.35" y="243.35" width="3.7" height="3.7" fill="#fff" stroke-width="1.25"/>
<rect x="329.05" y="244.55" width="3.7" height="3.7" fill="#fff" stroke-width="1.25"/>
<rect x="317.75" y="248.75" width="3.7" height="3.7" fill="#fff" stroke-width="1.25"/>
<rect x="323.15" y="250.25" width="3.7" height="3.7" fill="#fff" stroke-width="1.25"/>
<rect x="325.95" y="254.65" width="3.7" height="3.7" fill="#fff" stroke-width="1.25"/>
<rect x="320.45" y="258.15" width="3.7" height="3.7" fill="#fff" stroke-width="1.25"/>
</g>
<g stroke="#080808" fill="none">
<line x1="316.2" y1="252.1" x2="333.8" y2="252.1" stroke-width="1.3"/>
<line x1="325" y1="246.4" x2="325" y2="257.5" stroke-width="1.15"/>
</g>
<g stroke="#080808" fill="none">
<line x1="299.4" y1="218" x2="327" y2="218" stroke-width="1.4"/>
<line x1="299.4" y1="215.7" x2="299.4" y2="220.3" stroke-width="1.2"/>
<line x1="327" y1="215.7" x2="327" y2="220.3" stroke-width="1.2"/>
</g>
<text x="312.8" y="214.96" font-size="6.3" text-anchor="middle" font-weight="bold" textLength="11" lengthAdjust="spacingAndGlyphs" style="stroke-width:0.2px">N.S.</text>
<text x="364.2" y="178.22" font-size="12.6" font-weight="bold" text-anchor="start">J</text>
<g stroke="#080808" fill="none" stroke-linecap="butt">
<line x1="407.5" y1="197.6" x2="407.5" y2="272.3" stroke-width="1.6"/>
<line x1="406.7" y1="271.5" x2="518.5" y2="271.5" stroke-width="1.6"/>
<line x1="404.7" y1="197.6" x2="407.5" y2="197.6" stroke-width="1"/>
<line x1="404.7" y1="216.2" x2="407.5" y2="216.2" stroke-width="1"/>
<line x1="404.7" y1="234.6" x2="407.5" y2="234.6" stroke-width="1"/>
<line x1="404.7" y1="253" x2="407.5" y2="253" stroke-width="1"/>
<line x1="404.7" y1="271.5" x2="407.5" y2="271.5" stroke-width="1"/>
<line x1="416.7" y1="271.5" x2="416.7" y2="274.1" stroke-width="1"/>
<line x1="435.3" y1="271.5" x2="435.3" y2="274.1" stroke-width="1"/>
<line x1="453.7" y1="271.5" x2="453.7" y2="274.1" stroke-width="1"/>
<line x1="472.2" y1="271.5" x2="472.2" y2="274.1" stroke-width="1"/>
<line x1="490.7" y1="271.5" x2="490.7" y2="274.1" stroke-width="1"/>
<line x1="509.2" y1="271.5" x2="509.2" y2="274.1" stroke-width="1"/>
</g>
<text x="403.8" y="199.93" font-size="6.5" text-anchor="end" font-weight="normal">40</text>
<text x="403.8" y="218.53" font-size="6.5" text-anchor="end" font-weight="normal">30</text>
<text x="403.8" y="236.93" font-size="6.5" text-anchor="end" font-weight="normal">20</text>
<text x="403.8" y="255.33" font-size="6.5" text-anchor="end" font-weight="normal">10</text>
<text x="403.8" y="273.83" font-size="6.5" text-anchor="end" font-weight="normal">0</text>
<text transform="translate(380.3,233.55) rotate(-90)" x="-35.55" y="0" font-size="7" textLength="71.1" lengthAdjust="spacingAndGlyphs"><tspan font-size="7" dy="0">Percent PD-1</tspan><tspan font-size="4.76" dy="-2.94">+</tspan><tspan font-size="7" dy="2.94"> of CD8</tspan><tspan font-size="4.76" dy="-2.94">+</tspan></text>
<text transform="translate(388.8,232.1) rotate(-90)" x="-10.5" y="0" font-size="7" textLength="21" lengthAdjust="spacingAndGlyphs"><tspan font-size="7" dy="0">T cells</tspan></text>
<text x="364.9" y="288.1" font-size="7" text-anchor="start" font-weight="normal" textLength="20.9" lengthAdjust="spacingAndGlyphs">C1498</text>
<text x="364.9" y="296.2" font-size="7" text-anchor="start" font-weight="normal" textLength="24.42" lengthAdjust="spacingAndGlyphs">Vaccine</text>
<text x="364.9" y="304.5" font-size="7" text-anchor="start" font-weight="normal" textLength="33.9" lengthAdjust="spacingAndGlyphs">Cytarabine</text>
<line x1="415.6" y1="286.5" x2="418.4" y2="286.5" stroke="#080808" stroke-width="1.0"/>
<g stroke="#080808" stroke-width="1.05"><line x1="433.8" y1="285.5" x2="437.4" y2="285.5"/><line x1="435.6" y1="283.7" x2="435.6" y2="287.3"/></g>
<g stroke="#080808" stroke-width="1.05"><line x1="452.2" y1="285.5" x2="455.8" y2="285.5"/><line x1="454" y1="283.7" x2="454" y2="287.3"/></g>
<line x1="471.1" y1="286.5" x2="473.9" y2="286.5" stroke="#080808" stroke-width="1.0"/>
<g stroke="#080808" stroke-width="1.05"><line x1="489.2" y1="285.5" x2="492.8" y2="285.5"/><line x1="491" y1="283.7" x2="491" y2="287.3"/></g>
<g stroke="#080808" stroke-width="1.05"><line x1="507.7" y1="285.5" x2="511.3" y2="285.5"/><line x1="509.5" y1="283.7" x2="509.5" y2="287.3"/></g>
<line x1="415.6" y1="294.5" x2="418.4" y2="294.5" stroke="#080808" stroke-width="1.0"/>
<line x1="434.2" y1="294.5" x2="437" y2="294.5" stroke="#080808" stroke-width="1.0"/>
<line x1="452.6" y1="294.5" x2="455.4" y2="294.5" stroke="#080808" stroke-width="1.0"/>
<g stroke="#080808" stroke-width="1.05"><line x1="470.7" y1="293.5" x2="474.3" y2="293.5"/><line x1="472.5" y1="291.7" x2="472.5" y2="295.3"/></g>
<g stroke="#080808" stroke-width="1.05"><line x1="489.2" y1="293.5" x2="492.8" y2="293.5"/><line x1="491" y1="291.7" x2="491" y2="295.3"/></g>
<g stroke="#080808" stroke-width="1.05"><line x1="507.7" y1="293.5" x2="511.3" y2="293.5"/><line x1="509.5" y1="291.7" x2="509.5" y2="295.3"/></g>
<line x1="415.6" y1="302.5" x2="418.4" y2="302.5" stroke="#080808" stroke-width="1.0"/>
<line x1="434.2" y1="302.5" x2="437" y2="302.5" stroke="#080808" stroke-width="1.0"/>
<g stroke="#080808" stroke-width="1.05"><line x1="452.2" y1="302.5" x2="455.8" y2="302.5"/><line x1="454" y1="300.7" x2="454" y2="304.3"/></g>
<line x1="471.1" y1="302.5" x2="473.9" y2="302.5" stroke="#080808" stroke-width="1.0"/>
<line x1="489.6" y1="302.5" x2="492.4" y2="302.5" stroke="#080808" stroke-width="1.0"/>
<g stroke="#080808" stroke-width="1.05"><line x1="507.7" y1="302.5" x2="511.3" y2="302.5"/><line x1="509.5" y1="300.7" x2="509.5" y2="304.3"/></g>
<g stroke="#080808" fill="none">
<line x1="416.7" y1="234" x2="416.7" y2="250.2" stroke-width="1.15"/>
<line x1="413.9" y1="234" x2="419.5" y2="234" stroke-width="1.25"/>
<line x1="413.9" y1="250.2" x2="419.5" y2="250.2" stroke-width="1.25"/>
</g>
<g stroke="#080808">
<circle cx="416.8" cy="233.4" r="2.35" fill="#080808" stroke="none"/>
<polygon points="410.7,235.1 415.9,235.1 413.3,239.4" fill="#080808" stroke="none"/>
<polygon points="417.4,237.6 422.6,237.6 420,241.9" fill="#080808" stroke="none"/>
<polygon points="414.2,237.4 419.4,237.4 416.8,241.7" fill="#080808" stroke="none"/>
<polygon points="414.2,242.6 419.4,242.6 416.8,246.9" fill="#080808" stroke="none"/>
<polygon points="414.2,254.7 419.4,254.7 416.8,259" fill="#080808" stroke="none"/>
</g>
<g stroke="#080808" fill="none">
<line x1="410.9" y1="242.1" x2="422.5" y2="242.1" stroke-width="1.3"/>
<line x1="416.7" y1="234" x2="416.7" y2="250.2" stroke-width="1.15"/>
</g>
<g stroke="#080808" fill="none">
<line x1="435.3" y1="212.7" x2="435.3" y2="233.4" stroke-width="1.15"/>
<line x1="432.3" y1="212.7" x2="438.3" y2="212.7" stroke-width="1.25"/>
<line x1="432.3" y1="233.4" x2="438.3" y2="233.4" stroke-width="1.25"/>
</g>
<g stroke="#080808">
<circle cx="435.2" cy="207.5" r="1.9" fill="#fff" stroke-width="1.2"/>
<circle cx="432.5" cy="219" r="1.9" fill="#fff" stroke-width="1.2"/>
<circle cx="438.2" cy="218.5" r="1.9" fill="#fff" stroke-width="1.2"/>
<circle cx="435.2" cy="219" r="2.35" fill="#080808" stroke="none"/>
<circle cx="435.2" cy="227.1" r="1.9" fill="#fff" stroke-width="1.2"/>
<circle cx="438.2" cy="231.1" r="1.9" fill="#fff" stroke-width="1.2"/>
<circle cx="432.7" cy="235.2" r="1.9" fill="#fff" stroke-width="1.2"/>
</g>
<g stroke="#080808" fill="none">
<line x1="429.1" y1="223.6" x2="441.5" y2="223.6" stroke-width="1.3"/>
<line x1="435.3" y1="212.7" x2="435.3" y2="233.4" stroke-width="1.15"/>
</g>
<g stroke="#080808" fill="none">
<line x1="453.7" y1="215" x2="453.7" y2="237.5" stroke-width="1.15"/>
<line x1="450.3" y1="215" x2="457.1" y2="215" stroke-width="1.25"/>
<line x1="450.3" y1="237.5" x2="457.1" y2="237.5" stroke-width="1.25"/>
</g>
<g stroke="#080808">
<polygon points="456.9,211.9 459.5,216.2 454.3,216.2" fill="#080808" stroke="none"/>
<polygon points="451.1,213.1 453.7,217.4 448.5,217.4" fill="#080808" stroke="none"/>
<polygon points="451.1,218.5 453.7,222.8 448.5,222.8" fill="#080808" stroke="none"/>
<circle cx="456.3" cy="227.1" r="2.35" fill="#080808" stroke="none"/>
<polygon points="456.9,235.6 459.5,239.9 454.3,239.9" fill="#080808" stroke="none"/>
<polygon points="451.1,239.9 453.7,244.2 448.5,244.2" fill="#080808" stroke="none"/>
</g>
<g stroke="#080808" fill="none">
<line x1="447.9" y1="226.5" x2="459.5" y2="226.5" stroke-width="1.3"/>
<line x1="453.7" y1="215" x2="453.7" y2="237.5" stroke-width="1.15"/>
</g>
<g stroke="#080808" fill="none">
</g>
<g stroke="#080808">
<rect x="469.95" y="241.45" width="4.3" height="4.3" fill="#080808" stroke="none"/>
<rect x="467.65" y="246.25" width="4.3" height="4.3" fill="#080808" stroke="none"/>
<rect x="472.85" y="246.85" width="4.3" height="4.3" fill="#080808" stroke="none"/>
<rect x="469.95" y="247.65" width="4.3" height="4.3" fill="#080808" stroke="none"/>
<rect x="466.55" y="253.25" width="4.3" height="4.3" fill="#080808" stroke="none"/>
<rect x="469.35" y="254.35" width="4.3" height="4.3" fill="#080808" stroke="none"/>
<rect x="473.45" y="253.25" width="4.3" height="4.3" fill="#080808" stroke="none"/>
</g>
<g stroke="#080808" fill="none">
<line x1="466.1" y1="251.9" x2="478.3" y2="251.9" stroke-width="1.3"/>
</g>
<g stroke="#080808" fill="none">
<line x1="490.7" y1="221.1" x2="490.7" y2="253.3" stroke-width="1.15"/>
<line x1="487.3" y1="221.1" x2="494.1" y2="221.1" stroke-width="1.25"/>
<line x1="487.3" y1="253.3" x2="494.1" y2="253.3" stroke-width="1.25"/>
</g>
<g stroke="#080808">
<rect x="489.05" y="203.65" width="3.7" height="3.7" fill="#fff" stroke-width="1.25"/>
<rect x="489.05" y="233.35" width="3.7" height="3.7" fill="#fff" stroke-width="1.25"/>
<rect x="485.85" y="237.35" width="3.7" height="3.7" fill="#fff" stroke-width="1.25"/>
<rect x="491.55" y="241.75" width="3.7" height="3.7" fill="#fff" stroke-width="1.25"/>
<rect x="485.85" y="247.95" width="3.7" height="3.7" fill="#fff" stroke-width="1.25"/>
<rect x="491.85" y="247.55" width="3.7" height="3.7" fill="#fff" stroke-width="1.25"/>
</g>
<g stroke="#080808" fill="none">
<line x1="484.7" y1="237.1" x2="496.7" y2="237.1" stroke-width="1.3"/>
<line x1="490.7" y1="221.1" x2="490.7" y2="253.3" stroke-width="1.15"/>
</g>
<g stroke="#080808" fill="none">
</g>
<g stroke="#080808">
<polygon points="506.7,242.2 509,246 504.4,246" fill="#fff" stroke-width="1.1" stroke-linejoin="miter"/>
<polygon points="512.1,242.2 514.4,246 509.8,246" fill="#fff" stroke-width="1.1" stroke-linejoin="miter"/>
<polygon points="509.4,248.8 512,253.1 506.8,253.1" fill="#080808" stroke="none"/>
<polygon points="506.1,254.1 508.4,257.9 503.8,257.9" fill="#fff" stroke-width="1.1" stroke-linejoin="miter"/>
<polygon points="509.4,254.9 511.7,258.7 507.1,258.7" fill="#fff" stroke-width="1.1" stroke-linejoin="miter"/>
<polygon points="512.8,254.1 515.1,257.9 510.5,257.9" fill="#fff" stroke-width="1.1" stroke-linejoin="miter"/>
</g>
<g stroke="#080808" fill="none">
<line x1="503.2" y1="251.9" x2="515.2" y2="251.9" stroke-width="1.3"/>
</g>
<g stroke="#080808" fill="none">
<line x1="418" y1="199" x2="434.3" y2="199" stroke-width="1.4"/>
<line x1="418" y1="196.7" x2="418" y2="201.3" stroke-width="1.2"/>
<line x1="434.3" y1="196.7" x2="434.3" y2="201.3" stroke-width="1.2"/>
</g>
<circle cx="425.9" cy="195.7" r="1.45" fill="#080808"/>
<g stroke="#080808" fill="none">
<line x1="436.4" y1="199" x2="453.4" y2="199" stroke-width="1.4"/>
<line x1="436.4" y1="196.7" x2="436.4" y2="201.3" stroke-width="1.2"/>
<line x1="453.4" y1="196.7" x2="453.4" y2="201.3" stroke-width="1.2"/>
</g>
<text x="444.9" y="195.56" font-size="6.3" text-anchor="middle" font-weight="bold" textLength="11" lengthAdjust="spacingAndGlyphs" style="stroke-width:0.2px">N.S.</text>
<g stroke="#080808" fill="none">
<line x1="436.4" y1="185.5" x2="471.8" y2="185.5" stroke-width="1.4"/>
<line x1="436.4" y1="183.2" x2="436.4" y2="187.8" stroke-width="1.2"/>
<line x1="471.8" y1="183.2" x2="471.8" y2="187.8" stroke-width="1.2"/>
</g>
<circle cx="451.4" cy="180.9" r="1.45" fill="#080808"/>
<circle cx="454.8" cy="180.9" r="1.45" fill="#080808"/>
<circle cx="458.2" cy="180.9" r="1.45" fill="#080808"/>
<g stroke="#080808" fill="none">
<line x1="436.4" y1="175.2" x2="510.8" y2="175.2" stroke-width="1.4"/>
<line x1="436.4" y1="172.9" x2="436.4" y2="177.5" stroke-width="1.2"/>
<line x1="510.8" y1="172.9" x2="510.8" y2="177.5" stroke-width="1.2"/>
</g>
<circle cx="469.6" cy="170.9" r="1.45" fill="#080808"/>
<circle cx="473" cy="170.9" r="1.45" fill="#080808"/>
<circle cx="476.4" cy="170.9" r="1.45" fill="#080808"/>
<g stroke="#080808" fill="none">
<line x1="490.4" y1="199" x2="507.6" y2="199" stroke-width="1.4"/>
<line x1="490.4" y1="196.7" x2="490.4" y2="201.3" stroke-width="1.2"/>
<line x1="507.6" y1="196.7" x2="507.6" y2="201.3" stroke-width="1.2"/>
</g>
<text x="498.8" y="195.56" font-size="6.3" text-anchor="middle" font-weight="bold" textLength="11" lengthAdjust="spacingAndGlyphs" style="stroke-width:0.2px">N.S.</text>
<text x="-0.5" y="328.82" font-size="12.6" font-weight="bold" text-anchor="start">E</text>
<g stroke="#080808" fill="none" stroke-linecap="butt">
<line x1="42.4" y1="349" x2="42.4" y2="423" stroke-width="1.6"/>
<line x1="41.6" y1="422.2" x2="152.5" y2="422.2" stroke-width="1.6"/>
<line x1="39.6" y1="349" x2="42.4" y2="349" stroke-width="1"/>
<line x1="39.6" y1="367.4" x2="42.4" y2="367.4" stroke-width="1"/>
<line x1="39.6" y1="385.9" x2="42.4" y2="385.9" stroke-width="1"/>
<line x1="39.6" y1="404.2" x2="42.4" y2="404.2" stroke-width="1"/>
<line x1="39.6" y1="422.2" x2="42.4" y2="422.2" stroke-width="1"/>
<line x1="51.5" y1="422.2" x2="51.5" y2="424.8" stroke-width="1"/>
<line x1="69.6" y1="422.2" x2="69.6" y2="424.8" stroke-width="1"/>
<line x1="87.9" y1="422.2" x2="87.9" y2="424.8" stroke-width="1"/>
<line x1="106.1" y1="422.2" x2="106.1" y2="424.8" stroke-width="1"/>
<line x1="124.5" y1="422.2" x2="124.5" y2="424.8" stroke-width="1"/>
<line x1="142.9" y1="422.2" x2="142.9" y2="424.8" stroke-width="1"/>
</g>
<text x="38" y="351.22" font-size="6.2" text-anchor="end" font-weight="normal">20</text>
<text x="38" y="369.62" font-size="6.2" text-anchor="end" font-weight="normal">15</text>
<text x="38" y="388.12" font-size="6.2" text-anchor="end" font-weight="normal">10</text>
<text x="38" y="406.42" font-size="6.2" text-anchor="end" font-weight="normal">5</text>
<text x="38" y="424.42" font-size="6.2" text-anchor="end" font-weight="normal">0</text>
<text transform="translate(25.9,384.35) rotate(-90)" x="-36.35" y="0" font-size="7" textLength="72.7" lengthAdjust="spacingAndGlyphs"><tspan font-size="7" dy="0">Ratio of CD8</tspan><tspan font-size="4.76" dy="-2.94">+</tspan><tspan font-size="7" dy="2.94"> eff/Tregs</tspan></text>
<text x="0" y="438.8" font-size="7" text-anchor="start" font-weight="normal" textLength="20.8" lengthAdjust="spacingAndGlyphs">C1498</text>
<text x="0" y="446.5" font-size="7" text-anchor="start" font-weight="normal" textLength="24.13" lengthAdjust="spacingAndGlyphs">Vaccine</text>
<text x="0" y="455" font-size="7" text-anchor="start" font-weight="normal" textLength="33.5" lengthAdjust="spacingAndGlyphs">Cytarabine</text>
<line x1="50.4" y1="436.5" x2="53.2" y2="436.5" stroke="#080808" stroke-width="1.0"/>
<g stroke="#080808" stroke-width="1.05"><line x1="68.1" y1="436.5" x2="71.7" y2="436.5"/><line x1="69.9" y1="434.7" x2="69.9" y2="438.3"/></g>
<g stroke="#080808" stroke-width="1.05"><line x1="86.4" y1="436.5" x2="90" y2="436.5"/><line x1="88.2" y1="434.7" x2="88.2" y2="438.3"/></g>
<line x1="105" y1="436.5" x2="107.8" y2="436.5" stroke="#080808" stroke-width="1.0"/>
<g stroke="#080808" stroke-width="1.05"><line x1="123" y1="436.5" x2="126.6" y2="436.5"/><line x1="124.8" y1="434.7" x2="124.8" y2="438.3"/></g>
<g stroke="#080808" stroke-width="1.05"><line x1="141.4" y1="436.5" x2="145" y2="436.5"/><line x1="143.2" y1="434.7" x2="143.2" y2="438.3"/></g>
<line x1="50.4" y1="444.5" x2="53.2" y2="444.5" stroke="#080808" stroke-width="1.0"/>
<line x1="68.5" y1="444.5" x2="71.3" y2="444.5" stroke="#080808" stroke-width="1.0"/>
<line x1="86.8" y1="444.5" x2="89.6" y2="444.5" stroke="#080808" stroke-width="1.0"/>
<g stroke="#080808" stroke-width="1.05"><line x1="104.6" y1="444.5" x2="108.2" y2="444.5"/><line x1="106.4" y1="442.7" x2="106.4" y2="446.3"/></g>
<g stroke="#080808" stroke-width="1.05"><line x1="123" y1="444.5" x2="126.6" y2="444.5"/><line x1="124.8" y1="442.7" x2="124.8" y2="446.3"/></g>
<g stroke="#080808" stroke-width="1.05"><line x1="141.4" y1="444.5" x2="145" y2="444.5"/><line x1="143.2" y1="442.7" x2="143.2" y2="446.3"/></g>
<line x1="50.4" y1="453.5" x2="53.2" y2="453.5" stroke="#080808" stroke-width="1.0"/>
<line x1="68.5" y1="453.5" x2="71.3" y2="453.5" stroke="#080808" stroke-width="1.0"/>
<g stroke="#080808" stroke-width="1.05"><line x1="86.4" y1="452.5" x2="90" y2="452.5"/><line x1="88.2" y1="450.7" x2="88.2" y2="454.3"/></g>
<line x1="105" y1="453.5" x2="107.8" y2="453.5" stroke="#080808" stroke-width="1.0"/>
<line x1="123.4" y1="453.5" x2="126.2" y2="453.5" stroke="#080808" stroke-width="1.0"/>
<g stroke="#080808" stroke-width="1.05"><line x1="141.4" y1="452.5" x2="145" y2="452.5"/><line x1="143.2" y1="450.7" x2="143.2" y2="454.3"/></g>
<g stroke="#080808" fill="none">
<line x1="51.5" y1="404.7" x2="51.5" y2="411.7" stroke-width="1.15"/>
<line x1="48.9" y1="404.7" x2="54.1" y2="404.7" stroke-width="1.25"/>
<line x1="48.9" y1="411.7" x2="54.1" y2="411.7" stroke-width="1.25"/>
</g>
<g stroke="#080808">
<circle cx="48.9" cy="402" r="2.35" fill="#080808" stroke="none"/>
<polygon points="54,404.8 56.6,409.1 51.4,409.1" fill="#080808" stroke="none"/>
<circle cx="48.9" cy="413.4" r="2.35" fill="#080808" stroke="none"/>
<circle cx="52.6" cy="414" r="2.35" fill="#080808" stroke="none"/>
</g>
<g stroke="#080808" fill="none">
<line x1="45.3" y1="410.3" x2="57.7" y2="410.3" stroke-width="1.3"/>
<line x1="51.5" y1="404.7" x2="51.5" y2="411.7" stroke-width="1.15"/>
</g>
<g stroke="#080808" fill="none">
</g>
<g stroke="#080808">
<circle cx="69.6" cy="400.6" r="1.9" fill="#fff" stroke-width="1.2"/>
<circle cx="66.5" cy="406.7" r="1.9" fill="#fff" stroke-width="1.2"/>
<circle cx="73.8" cy="406.7" r="1.9" fill="#fff" stroke-width="1.2"/>
<circle cx="69.6" cy="405.6" r="1.9" fill="#fff" stroke-width="1.2"/>
<circle cx="67.6" cy="409.5" r="1.9" fill="#fff" stroke-width="1.2"/>
<circle cx="71.5" cy="410.3" r="1.9" fill="#fff" stroke-width="1.2"/>
<circle cx="69.6" cy="411.7" r="1.9" fill="#fff" stroke-width="1.2"/>
</g>
<g stroke="#080808" fill="none">
<line x1="63.5" y1="406.5" x2="75.7" y2="406.5" stroke-width="1.3"/>
</g>
<g stroke="#080808" fill="none">
</g>
<g stroke="#080808">
<rect x="82.55" y="401.45" width="4.3" height="4.3" fill="#080808" stroke="none"/>
<rect x="89.15" y="401.45" width="4.3" height="4.3" fill="#080808" stroke="none"/>
<rect x="84.05" y="406.25" width="4.3" height="4.3" fill="#080808" stroke="none"/>
<rect x="87.65" y="406.25" width="4.3" height="4.3" fill="#080808" stroke="none"/>
<rect x="85.75" y="408.65" width="4.3" height="4.3" fill="#080808" stroke="none"/>
</g>
<g stroke="#080808" fill="none">
<line x1="82.1" y1="406.7" x2="93.7" y2="406.7" stroke-width="1.3"/>
</g>
<g stroke="#080808" fill="none">
<line x1="106.1" y1="372.8" x2="106.1" y2="391.6" stroke-width="1.15"/>
<line x1="103.2" y1="372.8" x2="109" y2="372.8" stroke-width="1.25"/>
<line x1="103.2" y1="391.6" x2="109" y2="391.6" stroke-width="1.25"/>
</g>
<g stroke="#080808">
<rect x="104.25" y="361.85" width="3.7" height="3.7" fill="#fff" stroke-width="1.25"/>
<rect x="101.85" y="379.05" width="3.7" height="3.7" fill="#fff" stroke-width="1.25"/>
<rect x="107.05" y="380.45" width="3.7" height="3.7" fill="#fff" stroke-width="1.25"/>
<rect x="101.15" y="384.55" width="3.7" height="3.7" fill="#fff" stroke-width="1.25"/>
<rect x="108.15" y="386.55" width="3.7" height="3.7" fill="#fff" stroke-width="1.25"/>
<rect x="104.25" y="386.85" width="3.7" height="3.7" fill="#fff" stroke-width="1.25"/>
</g>
<g stroke="#080808" fill="none">
<line x1="100" y1="385.1" x2="112.2" y2="385.1" stroke-width="1.3"/>
<line x1="106.1" y1="372.8" x2="106.1" y2="391.6" stroke-width="1.15"/>
</g>
<g stroke="#080808" fill="none">
<line x1="124.5" y1="377.1" x2="124.5" y2="395.1" stroke-width="1.15"/>
<line x1="121.5" y1="377.1" x2="127.5" y2="377.1" stroke-width="1.25"/>
<line x1="121.5" y1="395.1" x2="127.5" y2="395.1" stroke-width="1.25"/>
</g>
<g stroke="#080808">
<polygon points="122.3,375.4 124.9,379.7 119.7,379.7" fill="#080808" stroke="none"/>
<polygon points="126.2,375.4 128.8,379.7 123.6,379.7" fill="#080808" stroke="none"/>
<polygon points="121.5,381.7 124.1,386 118.9,386" fill="#080808" stroke="none"/>
<polygon points="127.3,387.1 129.9,391.4 124.7,391.4" fill="#080808" stroke="none"/>
<polygon points="124.5,398.4 127.1,402.7 121.9,402.7" fill="#080808" stroke="none"/>
</g>
<g stroke="#080808" fill="none">
<line x1="118.6" y1="386.2" x2="130.4" y2="386.2" stroke-width="1.3"/>
<line x1="124.5" y1="377.1" x2="124.5" y2="395.1" stroke-width="1.15"/>
</g>
<g stroke="#080808" fill="none">
<line x1="142.9" y1="377.3" x2="142.9" y2="400.5" stroke-width="1.15"/>
<line x1="140.5" y1="377.3" x2="145.3" y2="377.3" stroke-width="1.25"/>
<line x1="140.5" y1="400.5" x2="145.3" y2="400.5" stroke-width="1.25"/>
</g>
<g stroke="#080808">
<circle cx="142.9" cy="370" r="2.35" fill="#080808" stroke="none"/>
<polygon points="140.3,377.2 145.5,377.2 142.9,381.5" fill="#080808" stroke="none"/>
<circle cx="140.2" cy="390.5" r="2.35" fill="#080808" stroke="none"/>
<circle cx="145.7" cy="394.6" r="2.35" fill="#080808" stroke="none"/>
<circle cx="146.3" cy="397.1" r="2.35" fill="#080808" stroke="none"/>
<circle cx="140.7" cy="400.7" r="2.35" fill="#080808" stroke="none"/>
</g>
<g stroke="#080808" fill="none">
<line x1="137.4" y1="389" x2="148.4" y2="389" stroke-width="1.3"/>
<line x1="142.9" y1="377.3" x2="142.9" y2="400.5" stroke-width="1.15"/>
</g>
<g stroke="#080808" fill="none">
<line x1="71.2" y1="337.5" x2="142.7" y2="337.5" stroke-width="1.4"/>
<line x1="71.2" y1="335.2" x2="71.2" y2="339.8" stroke-width="1.2"/>
<line x1="142.7" y1="335.2" x2="142.7" y2="339.8" stroke-width="1.2"/>
</g>
<circle cx="101.6" cy="332.3" r="1.45" fill="#080808"/>
<circle cx="105" cy="332.3" r="1.45" fill="#080808"/>
<g stroke="#080808" fill="none">
<line x1="71.2" y1="346.6" x2="124.4" y2="346.6" stroke-width="1.4"/>
<line x1="71.2" y1="344.3" x2="71.2" y2="348.9" stroke-width="1.2"/>
<line x1="124.4" y1="344.3" x2="124.4" y2="348.9" stroke-width="1.2"/>
</g>
<circle cx="96" cy="342.3" r="1.45" fill="#080808"/>
<circle cx="99.4" cy="342.3" r="1.45" fill="#080808"/>
<g stroke="#080808" fill="none">
<line x1="71.2" y1="354.8" x2="106.7" y2="354.8" stroke-width="1.4"/>
<line x1="71.2" y1="352.5" x2="71.2" y2="357.1" stroke-width="1.2"/>
<line x1="106.7" y1="352.5" x2="106.7" y2="357.1" stroke-width="1.2"/>
</g>
<circle cx="85.1" cy="351" r="1.45" fill="#080808"/>
<circle cx="88.5" cy="351" r="1.45" fill="#080808"/>
<circle cx="91.9" cy="351" r="1.45" fill="#080808"/>
<g stroke="#080808" fill="none">
<line x1="123.8" y1="363" x2="143.2" y2="363" stroke-width="1.4"/>
<line x1="123.8" y1="360.7" x2="123.8" y2="365.3" stroke-width="1.2"/>
<line x1="143.2" y1="360.7" x2="143.2" y2="365.3" stroke-width="1.2"/>
</g>
<text x="133.2" y="359.66" font-size="6.3" text-anchor="middle" font-weight="bold" textLength="11" lengthAdjust="spacingAndGlyphs" style="stroke-width:0.2px">N.S.</text>
<text x="181.9" y="328.62" font-size="12.6" font-weight="bold" text-anchor="start">F</text>
<g stroke="#080808" fill="none" stroke-linecap="butt">
<line x1="228" y1="343.8" x2="228" y2="421.6" stroke-width="1.6"/>
<line x1="227.2" y1="420.8" x2="343.7" y2="420.8" stroke-width="1.6"/>
<line x1="225.2" y1="343.8" x2="228" y2="343.8" stroke-width="1"/>
<line x1="225.2" y1="369.6" x2="228" y2="369.6" stroke-width="1"/>
<line x1="225.2" y1="395.3" x2="228" y2="395.3" stroke-width="1"/>
<line x1="225.2" y1="420.8" x2="228" y2="420.8" stroke-width="1"/>
<line x1="237.9" y1="420.8" x2="237.9" y2="423.4" stroke-width="1"/>
<line x1="256.8" y1="420.8" x2="256.8" y2="423.4" stroke-width="1"/>
<line x1="276.2" y1="420.8" x2="276.2" y2="423.4" stroke-width="1"/>
<line x1="295.4" y1="420.8" x2="295.4" y2="423.4" stroke-width="1"/>
<line x1="315" y1="420.8" x2="315" y2="423.4" stroke-width="1"/>
<line x1="334.5" y1="420.8" x2="334.5" y2="423.4" stroke-width="1"/>
</g>
<text x="223.2" y="346.02" font-size="6.2" text-anchor="end" font-weight="normal">30</text>
<text x="223.2" y="371.82" font-size="6.2" text-anchor="end" font-weight="normal">20</text>
<text x="223.2" y="397.52" font-size="6.2" text-anchor="end" font-weight="normal">10</text>
<text x="223.2" y="423.02" font-size="6.2" text-anchor="end" font-weight="normal">0</text>
<text transform="translate(207.8,380.75) rotate(-90)" x="-39.15" y="0" font-size="7" textLength="78.3" lengthAdjust="spacingAndGlyphs"><tspan font-size="7" dy="0">Ratio of CD8</tspan><tspan font-size="4.76" dy="-2.94">+</tspan><tspan font-size="7" dy="2.94"> eff/Tregs</tspan></text>
<text x="183.8" y="438.5" font-size="7" text-anchor="start" font-weight="normal" textLength="21.6" lengthAdjust="spacingAndGlyphs">C1498</text>
<text x="183.8" y="447.3" font-size="7" text-anchor="start" font-weight="normal" textLength="25.5" lengthAdjust="spacingAndGlyphs">Vaccine</text>
<text x="183.8" y="455.5" font-size="7" text-anchor="start" font-weight="normal" textLength="35.4" lengthAdjust="spacingAndGlyphs">Cytarabine</text>
<line x1="236.8" y1="436.5" x2="239.6" y2="436.5" stroke="#080808" stroke-width="1.0"/>
<g stroke="#080808" stroke-width="1.05"><line x1="255.3" y1="436.5" x2="258.9" y2="436.5"/><line x1="257.1" y1="434.7" x2="257.1" y2="438.3"/></g>
<g stroke="#080808" stroke-width="1.05"><line x1="274.7" y1="436.5" x2="278.3" y2="436.5"/><line x1="276.5" y1="434.7" x2="276.5" y2="438.3"/></g>
<line x1="294.3" y1="436.5" x2="297.1" y2="436.5" stroke="#080808" stroke-width="1.0"/>
<g stroke="#080808" stroke-width="1.05"><line x1="313.5" y1="436.5" x2="317.1" y2="436.5"/><line x1="315.3" y1="434.7" x2="315.3" y2="438.3"/></g>
<g stroke="#080808" stroke-width="1.05"><line x1="333" y1="436.5" x2="336.6" y2="436.5"/><line x1="334.8" y1="434.7" x2="334.8" y2="438.3"/></g>
<line x1="236.8" y1="445.5" x2="239.6" y2="445.5" stroke="#080808" stroke-width="1.0"/>
<line x1="255.7" y1="445.5" x2="258.5" y2="445.5" stroke="#080808" stroke-width="1.0"/>
<line x1="275.1" y1="445.5" x2="277.9" y2="445.5" stroke="#080808" stroke-width="1.0"/>
<g stroke="#080808" stroke-width="1.05"><line x1="293.9" y1="444.5" x2="297.5" y2="444.5"/><line x1="295.7" y1="442.7" x2="295.7" y2="446.3"/></g>
<g stroke="#080808" stroke-width="1.05"><line x1="313.5" y1="444.5" x2="317.1" y2="444.5"/><line x1="315.3" y1="442.7" x2="315.3" y2="446.3"/></g>
<g stroke="#080808" stroke-width="1.05"><line x1="333" y1="444.5" x2="336.6" y2="444.5"/><line x1="334.8" y1="442.7" x2="334.8" y2="446.3"/></g>
<line x1="236.8" y1="453.5" x2="239.6" y2="453.5" stroke="#080808" stroke-width="1.0"/>
<line x1="255.7" y1="453.5" x2="258.5" y2="453.5" stroke="#080808" stroke-width="1.0"/>
<g stroke="#080808" stroke-width="1.05"><line x1="274.7" y1="453.5" x2="278.3" y2="453.5"/><line x1="276.5" y1="451.7" x2="276.5" y2="455.3"/></g>
<line x1="294.3" y1="453.5" x2="297.1" y2="453.5" stroke="#080808" stroke-width="1.0"/>
<line x1="313.9" y1="453.5" x2="316.7" y2="453.5" stroke="#080808" stroke-width="1.0"/>
<g stroke="#080808" stroke-width="1.05"><line x1="333" y1="453.5" x2="336.6" y2="453.5"/><line x1="334.8" y1="451.7" x2="334.8" y2="455.3"/></g>
<g stroke="#080808" fill="none">
<line x1="237.9" y1="389" x2="237.9" y2="413.5" stroke-width="1.15"/>
<line x1="234.9" y1="389" x2="240.9" y2="389" stroke-width="1.25"/>
<line x1="234.9" y1="413.5" x2="240.9" y2="413.5" stroke-width="1.25"/>
</g>
<g stroke="#080808">
<circle cx="234.3" cy="388.7" r="2.35" fill="#080808" stroke="none"/>
<circle cx="241.3" cy="386.9" r="2.35" fill="#080808" stroke="none"/>
<circle cx="237.8" cy="391" r="2.35" fill="#080808" stroke="none"/>
<circle cx="234.3" cy="413.2" r="2.35" fill="#080808" stroke="none"/>
<circle cx="237.8" cy="414" r="2.35" fill="#080808" stroke="none"/>
<circle cx="241.3" cy="413.4" r="2.35" fill="#080808" stroke="none"/>
</g>
<g stroke="#080808" fill="none">
<line x1="231.6" y1="401.3" x2="244.2" y2="401.3" stroke-width="1.3"/>
<line x1="237.9" y1="389" x2="237.9" y2="413.5" stroke-width="1.15"/>
</g>
<g stroke="#080808" fill="none">
<line x1="256.8" y1="393.8" x2="256.8" y2="410.6" stroke-width="1.15"/>
<line x1="253.1" y1="393.8" x2="260.5" y2="393.8" stroke-width="1.25"/>
<line x1="253.1" y1="410.6" x2="260.5" y2="410.6" stroke-width="1.25"/>
</g>
<g stroke="#080808">
<circle cx="256.3" cy="387.8" r="1.9" fill="#fff" stroke-width="1.2"/>
<circle cx="256.3" cy="396.1" r="1.9" fill="#fff" stroke-width="1.2"/>
<circle cx="258.2" cy="406" r="1.9" fill="#fff" stroke-width="1.2"/>
<circle cx="254.8" cy="407.7" r="1.9" fill="#fff" stroke-width="1.2"/>
<circle cx="258.6" cy="408.3" r="1.9" fill="#fff" stroke-width="1.2"/>
<circle cx="255.7" cy="410.6" r="1.9" fill="#fff" stroke-width="1.2"/>
</g>
<g stroke="#080808" fill="none">
<line x1="250.5" y1="402.8" x2="263.1" y2="402.8" stroke-width="1.3"/>
<line x1="256.8" y1="393.8" x2="256.8" y2="410.6" stroke-width="1.15"/>
</g>
<g stroke="#080808" fill="none">
</g>
<g stroke="#080808">
<rect x="274.25" y="391.65" width="4.3" height="4.3" fill="#080808" stroke="none"/>
<rect x="271.45" y="395.75" width="4.3" height="4.3" fill="#080808" stroke="none"/>
<rect x="278.35" y="398.65" width="4.3" height="4.3" fill="#080808" stroke="none"/>
<rect x="275.45" y="402.05" width="4.3" height="4.3" fill="#080808" stroke="none"/>
<rect x="271.45" y="405.55" width="4.3" height="4.3" fill="#080808" stroke="none"/>
</g>
<g stroke="#080808" fill="none">
<line x1="270.2" y1="401.3" x2="282.2" y2="401.3" stroke-width="1.3"/>
</g>
<g stroke="#080808" fill="none">
<line x1="295.4" y1="352" x2="295.4" y2="384" stroke-width="1.15"/>
<line x1="292.4" y1="352" x2="298.4" y2="352" stroke-width="1.25"/>
<line x1="292.4" y1="384" x2="298.4" y2="384" stroke-width="1.25"/>
</g>
<g stroke="#080808">
<rect x="290.95" y="349.45" width="3.7" height="3.7" fill="#fff" stroke-width="1.25"/>
<rect x="296.95" y="350.05" width="3.7" height="3.7" fill="#fff" stroke-width="1.25"/>
<rect x="293.55" y="358.15" width="3.7" height="3.7" fill="#fff" stroke-width="1.25"/>
<rect x="293.55" y="373.75" width="3.7" height="3.7" fill="#fff" stroke-width="1.25"/>
<rect x="296.75" y="381.75" width="3.7" height="3.7" fill="#fff" stroke-width="1.25"/>
<rect x="290.95" y="386.45" width="3.7" height="3.7" fill="#fff" stroke-width="1.25"/>
</g>
<g stroke="#080808" fill="none">
<line x1="289.1" y1="369" x2="301.7" y2="369" stroke-width="1.3"/>
<line x1="295.4" y1="352" x2="295.4" y2="384" stroke-width="1.15"/>
</g>
<g stroke="#080808" fill="none">
<line x1="315" y1="368.6" x2="315" y2="386.5" stroke-width="1.15"/>
<line x1="312" y1="368.6" x2="318" y2="368.6" stroke-width="1.25"/>
<line x1="312" y1="386.5" x2="318" y2="386.5" stroke-width="1.25"/>
</g>
<g stroke="#080808">
<polygon points="315,364.4 317.6,368.7 312.4,368.7" fill="#080808" stroke="none"/>
<polygon points="312.1,370.2 314.7,374.5 309.5,374.5" fill="#080808" stroke="none"/>
<polygon points="317.9,373.1 320.5,377.4 315.3,377.4" fill="#080808" stroke="none"/>
<polygon points="318.4,382.6 321,386.9 315.8,386.9" fill="#080808" stroke="none"/>
<polygon points="312.1,385.2 314.7,389.5 309.5,389.5" fill="#080808" stroke="none"/>
</g>
<g stroke="#080808" fill="none">
<line x1="308.7" y1="377.3" x2="321.3" y2="377.3" stroke-width="1.3"/>
<line x1="315" y1="368.6" x2="315" y2="386.5" stroke-width="1.15"/>
</g>
<g stroke="#080808" fill="none">
<line x1="334.5" y1="374.4" x2="334.5" y2="389.8" stroke-width="1.15"/>
<line x1="330.7" y1="374.4" x2="338.3" y2="374.4" stroke-width="1.25"/>
<line x1="330.7" y1="389.8" x2="338.3" y2="389.8" stroke-width="1.25"/>
</g>
<g stroke="#080808">
<circle cx="331.7" cy="375.2" r="2.35" fill="#080808" stroke="none"/>
<circle cx="337.1" cy="373.8" r="2.35" fill="#080808" stroke="none"/>
<circle cx="338.3" cy="379" r="2.35" fill="#080808" stroke="none"/>
<polygon points="330.6,377.1 333.2,381.4 328,381.4" fill="#080808" stroke="none"/>
<circle cx="334.4" cy="384.2" r="2.35" fill="#080808" stroke="none"/>
<circle cx="334.4" cy="397.5" r="2.35" fill="#080808" stroke="none"/>
</g>
<g stroke="#080808" fill="none">
<line x1="328.3" y1="381.9" x2="340.7" y2="381.9" stroke-width="1.3"/>
<line x1="334.5" y1="374.4" x2="334.5" y2="389.8" stroke-width="1.15"/>
</g>
<g stroke="#080808" fill="none">
<line x1="258.8" y1="327.2" x2="333.9" y2="327.2" stroke-width="1.4"/>
<line x1="258.8" y1="324.9" x2="258.8" y2="329.5" stroke-width="1.2"/>
<line x1="333.9" y1="324.9" x2="333.9" y2="329.5" stroke-width="1.2"/>
</g>
<circle cx="292.4" cy="321.9" r="1.45" fill="#080808"/>
<g stroke="#080808" fill="none">
<line x1="258.8" y1="335.5" x2="314.9" y2="335.5" stroke-width="1.4"/>
<line x1="258.8" y1="333.2" x2="258.8" y2="337.8" stroke-width="1.2"/>
<line x1="314.9" y1="333.2" x2="314.9" y2="337.8" stroke-width="1.2"/>
</g>
<circle cx="284.9" cy="332.4" r="1.45" fill="#080808"/>
<circle cx="288.3" cy="332.4" r="1.45" fill="#080808"/>
<g stroke="#080808" fill="none">
<line x1="258.8" y1="344.2" x2="295.3" y2="344.2" stroke-width="1.4"/>
<line x1="258.8" y1="341.9" x2="258.8" y2="346.5" stroke-width="1.2"/>
<line x1="295.3" y1="341.9" x2="295.3" y2="346.5" stroke-width="1.2"/>
</g>
<circle cx="273.7" cy="341" r="1.45" fill="#080808"/>
<circle cx="277.1" cy="341" r="1.45" fill="#080808"/>
<circle cx="280.5" cy="341" r="1.45" fill="#080808"/>
<g stroke="#080808" fill="none">
<line x1="313.8" y1="359.1" x2="334.6" y2="359.1" stroke-width="1.4"/>
<line x1="313.8" y1="356.8" x2="313.8" y2="361.4" stroke-width="1.2"/>
<line x1="334.6" y1="356.8" x2="334.6" y2="361.4" stroke-width="1.2"/>
</g>
<text x="324.4" y="355.06" font-size="6.3" text-anchor="middle" font-weight="bold" textLength="11" lengthAdjust="spacingAndGlyphs" style="stroke-width:0.2px">N.S.</text>
<text x="363.5" y="328.62" font-size="12.6" font-weight="bold" text-anchor="start">K</text>
<g stroke="#080808" fill="none" stroke-linecap="butt">
<line x1="407.9" y1="345.6" x2="407.9" y2="421.3" stroke-width="1.6"/>
<line x1="407.1" y1="420.5" x2="520" y2="420.5" stroke-width="1.6"/>
<line x1="405.1" y1="345.6" x2="407.9" y2="345.6" stroke-width="1"/>
<line x1="405.1" y1="370.6" x2="407.9" y2="370.6" stroke-width="1"/>
<line x1="405.1" y1="395.6" x2="407.9" y2="395.6" stroke-width="1"/>
<line x1="405.1" y1="420.5" x2="407.9" y2="420.5" stroke-width="1"/>
<line x1="417.1" y1="420.5" x2="417.1" y2="423.1" stroke-width="1"/>
<line x1="435.9" y1="420.5" x2="435.9" y2="423.1" stroke-width="1"/>
<line x1="454.6" y1="420.5" x2="454.6" y2="423.1" stroke-width="1"/>
<line x1="472.9" y1="420.5" x2="472.9" y2="423.1" stroke-width="1"/>
<line x1="491.7" y1="420.5" x2="491.7" y2="423.1" stroke-width="1"/>
<line x1="510.5" y1="420.5" x2="510.5" y2="423.1" stroke-width="1"/>
</g>
<text x="404.1" y="347.93" font-size="6.5" text-anchor="end" font-weight="normal">60</text>
<text x="404.1" y="372.93" font-size="6.5" text-anchor="end" font-weight="normal">40</text>
<text x="404.1" y="397.93" font-size="6.5" text-anchor="end" font-weight="normal">20</text>
<text x="404.1" y="422.83" font-size="6.5" text-anchor="end" font-weight="normal">0</text>
<text transform="translate(380.3,380.95) rotate(-90)" x="-36.55" y="0" font-size="7" textLength="73.1" lengthAdjust="spacingAndGlyphs"><tspan font-size="7" dy="0">Percent PD-1</tspan><tspan font-size="4.76" dy="-2.94">+</tspan><tspan font-size="7" dy="2.94"> of CD4</tspan><tspan font-size="4.76" dy="-2.94">+</tspan></text>
<text transform="translate(388.8,380.35) rotate(-90)" x="-9.85" y="0" font-size="7" textLength="19.7" lengthAdjust="spacingAndGlyphs"><tspan font-size="7" dy="0">T cells</tspan></text>
<text x="364.9" y="437.2" font-size="7" text-anchor="start" font-weight="normal" textLength="21.3" lengthAdjust="spacingAndGlyphs">C1498</text>
<text x="364.9" y="445.4" font-size="7" text-anchor="start" font-weight="normal" textLength="24.7" lengthAdjust="spacingAndGlyphs">Vaccine</text>
<text x="364.9" y="453.8" font-size="7" text-anchor="start" font-weight="normal" textLength="34.3" lengthAdjust="spacingAndGlyphs">Cytarabine</text>
<line x1="416" y1="435.5" x2="418.8" y2="435.5" stroke="#080808" stroke-width="1.0"/>
<g stroke="#080808" stroke-width="1.05"><line x1="434.4" y1="434.5" x2="438" y2="434.5"/><line x1="436.2" y1="432.7" x2="436.2" y2="436.3"/></g>
<g stroke="#080808" stroke-width="1.05"><line x1="453.1" y1="434.5" x2="456.7" y2="434.5"/><line x1="454.9" y1="432.7" x2="454.9" y2="436.3"/></g>
<line x1="471.8" y1="435.5" x2="474.6" y2="435.5" stroke="#080808" stroke-width="1.0"/>
<g stroke="#080808" stroke-width="1.05"><line x1="490.2" y1="434.5" x2="493.8" y2="434.5"/><line x1="492" y1="432.7" x2="492" y2="436.3"/></g>
<g stroke="#080808" stroke-width="1.05"><line x1="509" y1="434.5" x2="512.6" y2="434.5"/><line x1="510.8" y1="432.7" x2="510.8" y2="436.3"/></g>
<line x1="416" y1="443.5" x2="418.8" y2="443.5" stroke="#080808" stroke-width="1.0"/>
<line x1="434.8" y1="443.5" x2="437.6" y2="443.5" stroke="#080808" stroke-width="1.0"/>
<line x1="453.5" y1="443.5" x2="456.3" y2="443.5" stroke="#080808" stroke-width="1.0"/>
<g stroke="#080808" stroke-width="1.05"><line x1="471.4" y1="443.5" x2="475" y2="443.5"/><line x1="473.2" y1="441.7" x2="473.2" y2="445.3"/></g>
<g stroke="#080808" stroke-width="1.05"><line x1="490.2" y1="443.5" x2="493.8" y2="443.5"/><line x1="492" y1="441.7" x2="492" y2="445.3"/></g>
<g stroke="#080808" stroke-width="1.05"><line x1="509" y1="443.5" x2="512.6" y2="443.5"/><line x1="510.8" y1="441.7" x2="510.8" y2="445.3"/></g>
<line x1="416" y1="451.5" x2="418.8" y2="451.5" stroke="#080808" stroke-width="1.0"/>
<line x1="434.8" y1="451.5" x2="437.6" y2="451.5" stroke="#080808" stroke-width="1.0"/>
<g stroke="#080808" stroke-width="1.05"><line x1="453.1" y1="451.5" x2="456.7" y2="451.5"/><line x1="454.9" y1="449.7" x2="454.9" y2="453.3"/></g>
<line x1="471.8" y1="451.5" x2="474.6" y2="451.5" stroke="#080808" stroke-width="1.0"/>
<line x1="490.6" y1="451.5" x2="493.4" y2="451.5" stroke="#080808" stroke-width="1.0"/>
<g stroke="#080808" stroke-width="1.05"><line x1="509" y1="451.5" x2="512.6" y2="451.5"/><line x1="510.8" y1="449.7" x2="510.8" y2="453.3"/></g>
<g stroke="#080808" fill="none">
<line x1="417.1" y1="380.4" x2="417.1" y2="401.1" stroke-width="1.15"/>
<line x1="414" y1="380.4" x2="420.2" y2="380.4" stroke-width="1.25"/>
<line x1="414" y1="401.1" x2="420.2" y2="401.1" stroke-width="1.25"/>
</g>
<g stroke="#080808">
<polygon points="414.5,374 419.7,374 417.1,378.3" fill="#080808" stroke="none"/>
<polygon points="411.6,383.8 416.8,383.8 414.2,388.1" fill="#080808" stroke="none"/>
<polygon points="417.4,383.8 422.6,383.8 420,388.1" fill="#080808" stroke="none"/>
<polygon points="411.6,392.4 416.8,392.4 414.2,396.7" fill="#080808" stroke="none"/>
<polygon points="417.4,394.1 422.6,394.1 420,398.4" fill="#080808" stroke="none"/>
<polygon points="414.5,403 419.7,403 417.1,407.3" fill="#080808" stroke="none"/>
</g>
<g stroke="#080808" fill="none">
<line x1="411.1" y1="391" x2="423.1" y2="391" stroke-width="1.3"/>
<line x1="417.1" y1="380.4" x2="417.1" y2="401.1" stroke-width="1.15"/>
</g>
<g stroke="#080808" fill="none">
<line x1="435.9" y1="364.2" x2="435.9" y2="393" stroke-width="1.15"/>
<line x1="432.6" y1="364.2" x2="439.2" y2="364.2" stroke-width="1.25"/>
<line x1="432.6" y1="393" x2="439.2" y2="393" stroke-width="1.25"/>
</g>
<g stroke="#080808">
<circle cx="432.9" cy="362.2" r="1.9" fill="#fff" stroke-width="1.2"/>
<circle cx="439" cy="360.2" r="1.9" fill="#fff" stroke-width="1.2"/>
<circle cx="432.9" cy="382.1" r="1.9" fill="#fff" stroke-width="1.2"/>
<circle cx="438.7" cy="385.9" r="1.9" fill="#fff" stroke-width="1.2"/>
<circle cx="438.7" cy="390.2" r="1.9" fill="#fff" stroke-width="1.2"/>
<circle cx="433.3" cy="391.9" r="1.9" fill="#fff" stroke-width="1.2"/>
</g>
<g stroke="#080808" fill="none">
<line x1="429.7" y1="379" x2="442.1" y2="379" stroke-width="1.3"/>
<line x1="435.9" y1="364.2" x2="435.9" y2="393" stroke-width="1.15"/>
</g>
<g stroke="#080808" fill="none">
<line x1="454.6" y1="389.4" x2="454.6" y2="399" stroke-width="1.15"/>
<line x1="451.6" y1="389.4" x2="457.6" y2="389.4" stroke-width="1.25"/>
<line x1="451.6" y1="399" x2="457.6" y2="399" stroke-width="1.25"/>
</g>
<g stroke="#080808">
<polygon points="454.6,383.6 457.2,387.9 452,387.9" fill="#080808" stroke="none"/>
<polygon points="450.6,392.3 453.2,396.6 448,396.6" fill="#080808" stroke="none"/>
<polygon points="458.3,391.7 460.9,396 455.7,396" fill="#080808" stroke="none"/>
<polygon points="456.9,394.6 459.5,398.9 454.3,398.9" fill="#080808" stroke="none"/>
<polygon points="451.7,399.2 454.3,403.5 449.1,403.5" fill="#080808" stroke="none"/>
</g>
<g stroke="#080808" fill="none">
<line x1="448.6" y1="395.4" x2="460.6" y2="395.4" stroke-width="1.3"/>
<line x1="454.6" y1="389.4" x2="454.6" y2="399" stroke-width="1.15"/>
</g>
<g stroke="#080808" fill="none">
<line x1="472.9" y1="383.5" x2="472.9" y2="403.6" stroke-width="1.15"/>
<line x1="469.9" y1="383.5" x2="475.9" y2="383.5" stroke-width="1.25"/>
<line x1="469.9" y1="403.6" x2="475.9" y2="403.6" stroke-width="1.25"/>
</g>
<g stroke="#080808">
<rect x="471.15" y="378.45" width="4.3" height="4.3" fill="#080808" stroke="none"/>
<rect x="473.45" y="383.05" width="4.3" height="4.3" fill="#080808" stroke="none"/>
<rect x="468.25" y="385.95" width="4.3" height="4.3" fill="#080808" stroke="none"/>
<rect x="471.65" y="400.65" width="4.3" height="4.3" fill="#080808" stroke="none"/>
<rect x="473.95" y="402.65" width="4.3" height="4.3" fill="#080808" stroke="none"/>
<rect x="468.05" y="406.65" width="4.3" height="4.3" fill="#080808" stroke="none"/>
</g>
<g stroke="#080808" fill="none">
<line x1="467" y1="395.6" x2="478.8" y2="395.6" stroke-width="1.3"/>
<line x1="472.9" y1="383.5" x2="472.9" y2="403.6" stroke-width="1.15"/>
</g>
<g stroke="#080808" fill="none">
<line x1="491.7" y1="386.9" x2="491.7" y2="404.4" stroke-width="1.15"/>
<line x1="488.3" y1="386.9" x2="495.1" y2="386.9" stroke-width="1.25"/>
<line x1="488.3" y1="404.4" x2="495.1" y2="404.4" stroke-width="1.25"/>
</g>
<g stroke="#080808">
<rect x="489.85" y="381.85" width="3.7" height="3.7" fill="#fff" stroke-width="1.25"/>
<rect x="492.75" y="387.65" width="3.7" height="3.7" fill="#fff" stroke-width="1.25"/>
<rect x="486.95" y="392.95" width="3.7" height="3.7" fill="#fff" stroke-width="1.25"/>
<rect x="487.25" y="399.15" width="3.7" height="3.7" fill="#fff" stroke-width="1.25"/>
<rect x="492.75" y="399.45" width="3.7" height="3.7" fill="#fff" stroke-width="1.25"/>
<rect x="489.85" y="406.05" width="3.7" height="3.7" fill="#fff" stroke-width="1.25"/>
</g>
<g stroke="#080808" fill="none">
<line x1="485.9" y1="396.4" x2="497.5" y2="396.4" stroke-width="1.3"/>
<line x1="491.7" y1="386.9" x2="491.7" y2="404.4" stroke-width="1.15"/>
</g>
<g stroke="#080808" fill="none">
</g>
<g stroke="#080808">
<polygon points="510.5,393.7 512.8,397.5 508.2,397.5" fill="#fff" stroke-width="1.1" stroke-linejoin="miter"/>
<polygon points="507.3,396.8 509.6,400.6 505,400.6" fill="#fff" stroke-width="1.1" stroke-linejoin="miter"/>
<polygon points="514,396.8 516.3,400.6 511.7,400.6" fill="#fff" stroke-width="1.1" stroke-linejoin="miter"/>
<polygon points="509,400.9 511.3,404.7 506.7,404.7" fill="#fff" stroke-width="1.1" stroke-linejoin="miter"/>
<polygon points="512.5,400.9 514.8,404.7 510.2,404.7" fill="#fff" stroke-width="1.1" stroke-linejoin="miter"/>
</g>
<g stroke="#080808" fill="none">
<line x1="505.1" y1="400.2" x2="515.9" y2="400.2" stroke-width="1.3"/>
</g>
<g stroke="#080808" fill="none">
<line x1="436.1" y1="339.8" x2="512.5" y2="339.8" stroke-width="1.4"/>
<line x1="436.1" y1="337.5" x2="436.1" y2="342.1" stroke-width="1.2"/>
<line x1="512.5" y1="337.5" x2="512.5" y2="342.1" stroke-width="1.2"/>
</g>
<circle cx="474.1" cy="334.1" r="1.45" fill="#080808"/>
<circle cx="477.5" cy="334.1" r="1.45" fill="#080808"/>
<g stroke="#080808" fill="none">
<line x1="436.1" y1="349.1" x2="490.9" y2="349.1" stroke-width="1.4"/>
<line x1="436.1" y1="346.8" x2="436.1" y2="351.4" stroke-width="1.2"/>
<line x1="490.9" y1="346.8" x2="490.9" y2="351.4" stroke-width="1.2"/>
</g>
<circle cx="464.3" cy="344.4" r="1.45" fill="#080808"/>
<g stroke="#080808" fill="none">
<line x1="493.2" y1="376" x2="509.8" y2="376" stroke-width="1.4"/>
<line x1="493.2" y1="373.7" x2="493.2" y2="378.3" stroke-width="1.2"/>
<line x1="509.8" y1="373.7" x2="509.8" y2="378.3" stroke-width="1.2"/>
</g>
<text x="501.5" y="371.26" font-size="6.3" text-anchor="middle" font-weight="bold" textLength="11" lengthAdjust="spacingAndGlyphs" style="stroke-width:0.2px">N.S.</text>
<text x="0" y="479.82" font-size="12.6" font-weight="bold" text-anchor="start">G</text>
<g stroke="#080808" fill="none" stroke-linecap="butt">
<line x1="42.9" y1="482.6" x2="42.9" y2="557.9" stroke-width="1.6"/>
<line x1="42.1" y1="557.1" x2="154.8" y2="557.1" stroke-width="1.6"/>
<line x1="40.1" y1="482.6" x2="42.9" y2="482.6" stroke-width="1"/>
<line x1="40.1" y1="507.6" x2="42.9" y2="507.6" stroke-width="1"/>
<line x1="40.1" y1="532.4" x2="42.9" y2="532.4" stroke-width="1"/>
<line x1="40.1" y1="557.1" x2="42.9" y2="557.1" stroke-width="1"/>
<line x1="52.2" y1="557.1" x2="52.2" y2="559.7" stroke-width="1"/>
<line x1="70.6" y1="557.1" x2="70.6" y2="559.7" stroke-width="1"/>
<line x1="89.3" y1="557.1" x2="89.3" y2="559.7" stroke-width="1"/>
<line x1="107.9" y1="557.1" x2="107.9" y2="559.7" stroke-width="1"/>
<line x1="126.9" y1="557.1" x2="126.9" y2="559.7" stroke-width="1"/>
<line x1="145.4" y1="557.1" x2="145.4" y2="559.7" stroke-width="1"/>
</g>
<text x="39.1" y="484.82" font-size="6.2" text-anchor="end" font-weight="normal">15</text>
<text x="39.1" y="509.82" font-size="6.2" text-anchor="end" font-weight="normal">10</text>
<text x="39.1" y="534.62" font-size="6.2" text-anchor="end" font-weight="normal">5</text>
<text x="39.1" y="559.32" font-size="6.2" text-anchor="end" font-weight="normal">0</text>
<text transform="translate(26.2,518.95) rotate(-90)" x="-37.55" y="0" font-size="7" textLength="75.1" lengthAdjust="spacingAndGlyphs"><tspan font-size="7" dy="0">Ratio of CD4</tspan><tspan font-size="4.76" dy="-2.94">+</tspan><tspan font-size="7" dy="2.94"> eff/Tregs</tspan></text>
<text x="0" y="573.9" font-size="7" text-anchor="start" font-weight="normal" textLength="20.8" lengthAdjust="spacingAndGlyphs">C1498</text>
<text x="0" y="582.1" font-size="7" text-anchor="start" font-weight="normal" textLength="24.13" lengthAdjust="spacingAndGlyphs">Vaccine</text>
<text x="0" y="590.1" font-size="7" text-anchor="start" font-weight="normal" textLength="33.5" lengthAdjust="spacingAndGlyphs">Cytarabine</text>
<line x1="51.1" y1="572.5" x2="53.9" y2="572.5" stroke="#080808" stroke-width="1.0"/>
<g stroke="#080808" stroke-width="1.05"><line x1="69.1" y1="571.5" x2="72.7" y2="571.5"/><line x1="70.9" y1="569.7" x2="70.9" y2="573.3"/></g>
<g stroke="#080808" stroke-width="1.05"><line x1="87.8" y1="571.5" x2="91.4" y2="571.5"/><line x1="89.6" y1="569.7" x2="89.6" y2="573.3"/></g>
<line x1="106.8" y1="572.5" x2="109.6" y2="572.5" stroke="#080808" stroke-width="1.0"/>
<g stroke="#080808" stroke-width="1.05"><line x1="125.4" y1="571.5" x2="129" y2="571.5"/><line x1="127.2" y1="569.7" x2="127.2" y2="573.3"/></g>
<g stroke="#080808" stroke-width="1.05"><line x1="143.9" y1="571.5" x2="147.5" y2="571.5"/><line x1="145.7" y1="569.7" x2="145.7" y2="573.3"/></g>
<line x1="51.1" y1="580.5" x2="53.9" y2="580.5" stroke="#080808" stroke-width="1.0"/>
<line x1="69.5" y1="580.5" x2="72.3" y2="580.5" stroke="#080808" stroke-width="1.0"/>
<line x1="88.2" y1="580.5" x2="91" y2="580.5" stroke="#080808" stroke-width="1.0"/>
<g stroke="#080808" stroke-width="1.05"><line x1="106.4" y1="579.5" x2="110" y2="579.5"/><line x1="108.2" y1="577.7" x2="108.2" y2="581.3"/></g>
<g stroke="#080808" stroke-width="1.05"><line x1="125.4" y1="579.5" x2="129" y2="579.5"/><line x1="127.2" y1="577.7" x2="127.2" y2="581.3"/></g>
<g stroke="#080808" stroke-width="1.05"><line x1="143.9" y1="579.5" x2="147.5" y2="579.5"/><line x1="145.7" y1="577.7" x2="145.7" y2="581.3"/></g>
<line x1="51.1" y1="588.5" x2="53.9" y2="588.5" stroke="#080808" stroke-width="1.0"/>
<line x1="69.5" y1="588.5" x2="72.3" y2="588.5" stroke="#080808" stroke-width="1.0"/>
<g stroke="#080808" stroke-width="1.05"><line x1="87.8" y1="587.5" x2="91.4" y2="587.5"/><line x1="89.6" y1="585.7" x2="89.6" y2="589.3"/></g>
<line x1="106.8" y1="588.5" x2="109.6" y2="588.5" stroke="#080808" stroke-width="1.0"/>
<line x1="125.8" y1="588.5" x2="128.6" y2="588.5" stroke="#080808" stroke-width="1.0"/>
<g stroke="#080808" stroke-width="1.05"><line x1="143.9" y1="587.5" x2="147.5" y2="587.5"/><line x1="145.7" y1="585.7" x2="145.7" y2="589.3"/></g>
<g stroke="#080808" fill="none">
</g>
<g stroke="#080808">
<circle cx="47.8" cy="538" r="2.35" fill="#080808" stroke="none"/>
<circle cx="51" cy="536.2" r="2.35" fill="#080808" stroke="none"/>
<polygon points="51.9,533.7 57.1,533.7 54.5,538" fill="#080808" stroke="none"/>
<circle cx="56.5" cy="537.6" r="2.35" fill="#080808" stroke="none"/>
<circle cx="50.5" cy="540" r="2.35" fill="#080808" stroke="none"/>
<circle cx="53.5" cy="540.3" r="2.35" fill="#080808" stroke="none"/>
</g>
<g stroke="#080808" fill="none">
<line x1="47.2" y1="537.7" x2="57.2" y2="537.7" stroke-width="1.3"/>
</g>
<g stroke="#080808" fill="none">
</g>
<g stroke="#080808">
<circle cx="74.3" cy="526.7" r="1.9" fill="#fff" stroke-width="1.2"/>
<circle cx="67.1" cy="530" r="1.9" fill="#fff" stroke-width="1.2"/>
<circle cx="70.8" cy="531.7" r="1.9" fill="#fff" stroke-width="1.2"/>
<circle cx="67.1" cy="534.8" r="1.9" fill="#fff" stroke-width="1.2"/>
<circle cx="74.3" cy="535.6" r="1.9" fill="#fff" stroke-width="1.2"/>
<circle cx="70.8" cy="538.4" r="1.9" fill="#fff" stroke-width="1.2"/>
</g>
<g stroke="#080808" fill="none">
<line x1="64.8" y1="532.6" x2="76.4" y2="532.6" stroke-width="1.3"/>
</g>
<g stroke="#080808" fill="none">
</g>
<g stroke="#080808">
<rect x="83.85" y="528.65" width="4.3" height="4.3" fill="#080808" stroke="none"/>
<rect x="90.05" y="528.65" width="4.3" height="4.3" fill="#080808" stroke="none"/>
<rect x="87.25" y="528.65" width="4.3" height="4.3" fill="#080808" stroke="none"/>
<rect x="85.55" y="533.45" width="4.3" height="4.3" fill="#080808" stroke="none"/>
<rect x="87.85" y="533.45" width="4.3" height="4.3" fill="#080808" stroke="none"/>
</g>
<g stroke="#080808" fill="none">
<line x1="83.1" y1="532.8" x2="95.5" y2="532.8" stroke-width="1.3"/>
</g>
<g stroke="#080808" fill="none">
<line x1="107.9" y1="492" x2="107.9" y2="520" stroke-width="1.15"/>
<line x1="104.9" y1="492" x2="110.9" y2="492" stroke-width="1.25"/>
<line x1="104.9" y1="520" x2="110.9" y2="520" stroke-width="1.25"/>
</g>
<g stroke="#080808">
<rect x="103.55" y="489.95" width="3.7" height="3.7" fill="#fff" stroke-width="1.25"/>
<rect x="109.35" y="488.65" width="3.7" height="3.7" fill="#fff" stroke-width="1.25"/>
<rect x="106.05" y="508.45" width="3.7" height="3.7" fill="#fff" stroke-width="1.25"/>
<rect x="102.65" y="514.75" width="3.7" height="3.7" fill="#fff" stroke-width="1.25"/>
<rect x="109.85" y="515.25" width="3.7" height="3.7" fill="#fff" stroke-width="1.25"/>
<rect x="106.05" y="516.85" width="3.7" height="3.7" fill="#fff" stroke-width="1.25"/>
</g>
<g stroke="#080808" fill="none">
<line x1="101.8" y1="507.7" x2="114" y2="507.7" stroke-width="1.3"/>
<line x1="107.9" y1="492" x2="107.9" y2="520" stroke-width="1.15"/>
</g>
<g stroke="#080808" fill="none">
<line x1="126.9" y1="504.4" x2="126.9" y2="538.4" stroke-width="1.15"/>
<line x1="123.7" y1="504.4" x2="130.1" y2="504.4" stroke-width="1.25"/>
<line x1="123.7" y1="538.4" x2="130.1" y2="538.4" stroke-width="1.25"/>
</g>
<g stroke="#080808">
<polygon points="126.9,490 129.5,494.3 124.3,494.3" fill="#080808" stroke="none"/>
<circle cx="126.9" cy="521.6" r="2.35" fill="#080808" stroke="none"/>
<polygon points="124.1,525.7 126.7,530 121.5,530" fill="#080808" stroke="none"/>
<polygon points="129.4,526.7 132,531 126.8,531" fill="#080808" stroke="none"/>
<polygon points="126.9,535.5 129.5,539.8 124.3,539.8" fill="#080808" stroke="none"/>
</g>
<g stroke="#080808" fill="none">
<line x1="121.1" y1="521.6" x2="132.7" y2="521.6" stroke-width="1.3"/>
<line x1="126.9" y1="504.4" x2="126.9" y2="538.4" stroke-width="1.15"/>
</g>
<g stroke="#080808" fill="none">
<line x1="145.4" y1="523.8" x2="145.4" y2="535.2" stroke-width="1.15"/>
<line x1="141.9" y1="523.8" x2="148.9" y2="523.8" stroke-width="1.25"/>
<line x1="141.9" y1="535.2" x2="148.9" y2="535.2" stroke-width="1.25"/>
</g>
<g stroke="#080808">
<circle cx="148.2" cy="521.9" r="2.35" fill="#080808" stroke="none"/>
<circle cx="142.8" cy="525.4" r="2.35" fill="#080808" stroke="none"/>
<circle cx="148.2" cy="527.6" r="2.35" fill="#080808" stroke="none"/>
<circle cx="141.8" cy="530.1" r="2.35" fill="#080808" stroke="none"/>
<circle cx="146.3" cy="532" r="2.35" fill="#080808" stroke="none"/>
<circle cx="145.4" cy="539" r="2.35" fill="#080808" stroke="none"/>
</g>
<g stroke="#080808" fill="none">
<line x1="140" y1="529.5" x2="150.8" y2="529.5" stroke-width="1.3"/>
<line x1="145.4" y1="523.8" x2="145.4" y2="535.2" stroke-width="1.15"/>
</g>
<g stroke="#080808" fill="none">
<line x1="72.5" y1="483.5" x2="108.3" y2="483.5" stroke-width="1.4"/>
<line x1="72.5" y1="481.2" x2="72.5" y2="485.8" stroke-width="1.2"/>
<line x1="108.3" y1="481.2" x2="108.3" y2="485.8" stroke-width="1.2"/>
</g>
<circle cx="87.1" cy="479.7" r="1.45" fill="#080808"/>
<circle cx="90.5" cy="479.7" r="1.45" fill="#080808"/>
<circle cx="93.9" cy="479.7" r="1.45" fill="#080808"/>
<g stroke="#080808" fill="none">
<line x1="126.4" y1="483.4" x2="144.1" y2="483.4" stroke-width="1.4"/>
<line x1="126.4" y1="481.1" x2="126.4" y2="485.7" stroke-width="1.2"/>
<line x1="144.1" y1="481.1" x2="144.1" y2="485.7" stroke-width="1.2"/>
</g>
<text x="136.1" y="480.46" font-size="6.3" text-anchor="middle" font-weight="bold" textLength="11" lengthAdjust="spacingAndGlyphs" style="stroke-width:0.2px">N.S.</text>
<text x="182.1" y="479.82" font-size="12.6" font-weight="bold" text-anchor="start">H</text>
<g stroke="#080808" fill="none" stroke-linecap="butt">
<line x1="228.9" y1="483.3" x2="228.9" y2="557.8" stroke-width="1.6"/>
<line x1="228.1" y1="557" x2="339.2" y2="557" stroke-width="1.6"/>
<line x1="226.1" y1="483.3" x2="228.9" y2="483.3" stroke-width="1"/>
<line x1="226.1" y1="501.8" x2="228.9" y2="501.8" stroke-width="1"/>
<line x1="226.1" y1="520.5" x2="228.9" y2="520.5" stroke-width="1"/>
<line x1="226.1" y1="538.8" x2="228.9" y2="538.8" stroke-width="1"/>
<line x1="226.1" y1="557" x2="228.9" y2="557" stroke-width="1"/>
<line x1="237.8" y1="557" x2="237.8" y2="559.6" stroke-width="1"/>
<line x1="256.2" y1="557" x2="256.2" y2="559.6" stroke-width="1"/>
<line x1="274.6" y1="557" x2="274.6" y2="559.6" stroke-width="1"/>
<line x1="293.1" y1="557" x2="293.1" y2="559.6" stroke-width="1"/>
<line x1="311.7" y1="557" x2="311.7" y2="559.6" stroke-width="1"/>
<line x1="330.3" y1="557" x2="330.3" y2="559.6" stroke-width="1"/>
</g>
<text x="223.5" y="485.52" font-size="6.2" text-anchor="end" font-weight="normal">200</text>
<text x="223.5" y="504.02" font-size="6.2" text-anchor="end" font-weight="normal">150</text>
<text x="223.5" y="522.72" font-size="6.2" text-anchor="end" font-weight="normal">100</text>
<text x="223.5" y="541.02" font-size="6.2" text-anchor="end" font-weight="normal">50</text>
<text x="223.5" y="559.22" font-size="6.2" text-anchor="end" font-weight="normal">0</text>
<text transform="translate(205.4,518.55) rotate(-90)" x="-37.15" y="0" font-size="7" textLength="74.3" lengthAdjust="spacingAndGlyphs"><tspan font-size="7" dy="0">Ratio of CD4</tspan><tspan font-size="4.76" dy="-2.94">+</tspan><tspan font-size="7" dy="2.94"> eff/Tregs</tspan></text>
<text x="186.2" y="573.6" font-size="7" text-anchor="start" font-weight="normal" textLength="20.7" lengthAdjust="spacingAndGlyphs">C1498</text>
<text x="186.2" y="581.6" font-size="7" text-anchor="start" font-weight="normal" textLength="24.56" lengthAdjust="spacingAndGlyphs">Vaccine</text>
<text x="186.2" y="590.1" font-size="7" text-anchor="start" font-weight="normal" textLength="34.1" lengthAdjust="spacingAndGlyphs">Cytarabine</text>
<line x1="236.7" y1="571.5" x2="239.5" y2="571.5" stroke="#080808" stroke-width="1.0"/>
<g stroke="#080808" stroke-width="1.05"><line x1="254.7" y1="571.5" x2="258.3" y2="571.5"/><line x1="256.5" y1="569.7" x2="256.5" y2="573.3"/></g>
<g stroke="#080808" stroke-width="1.05"><line x1="273.1" y1="571.5" x2="276.7" y2="571.5"/><line x1="274.9" y1="569.7" x2="274.9" y2="573.3"/></g>
<line x1="292" y1="571.5" x2="294.8" y2="571.5" stroke="#080808" stroke-width="1.0"/>
<g stroke="#080808" stroke-width="1.05"><line x1="310.2" y1="571.5" x2="313.8" y2="571.5"/><line x1="312" y1="569.7" x2="312" y2="573.3"/></g>
<g stroke="#080808" stroke-width="1.05"><line x1="328.8" y1="571.5" x2="332.4" y2="571.5"/><line x1="330.6" y1="569.7" x2="330.6" y2="573.3"/></g>
<line x1="236.7" y1="579.5" x2="239.5" y2="579.5" stroke="#080808" stroke-width="1.0"/>
<line x1="255.1" y1="579.5" x2="257.9" y2="579.5" stroke="#080808" stroke-width="1.0"/>
<line x1="273.5" y1="579.5" x2="276.3" y2="579.5" stroke="#080808" stroke-width="1.0"/>
<g stroke="#080808" stroke-width="1.05"><line x1="291.6" y1="579.5" x2="295.2" y2="579.5"/><line x1="293.4" y1="577.7" x2="293.4" y2="581.3"/></g>
<g stroke="#080808" stroke-width="1.05"><line x1="310.2" y1="579.5" x2="313.8" y2="579.5"/><line x1="312" y1="577.7" x2="312" y2="581.3"/></g>
<g stroke="#080808" stroke-width="1.05"><line x1="328.8" y1="579.5" x2="332.4" y2="579.5"/><line x1="330.6" y1="577.7" x2="330.6" y2="581.3"/></g>
<line x1="236.7" y1="588.5" x2="239.5" y2="588.5" stroke="#080808" stroke-width="1.0"/>
<line x1="255.1" y1="588.5" x2="257.9" y2="588.5" stroke="#080808" stroke-width="1.0"/>
<g stroke="#080808" stroke-width="1.05"><line x1="273.1" y1="587.5" x2="276.7" y2="587.5"/><line x1="274.9" y1="585.7" x2="274.9" y2="589.3"/></g>
<line x1="292" y1="588.5" x2="294.8" y2="588.5" stroke="#080808" stroke-width="1.0"/>
<line x1="310.6" y1="588.5" x2="313.4" y2="588.5" stroke="#080808" stroke-width="1.0"/>
<g stroke="#080808" stroke-width="1.05"><line x1="328.8" y1="587.5" x2="332.4" y2="587.5"/><line x1="330.6" y1="585.7" x2="330.6" y2="589.3"/></g>
<g stroke="#080808" fill="none">
<line x1="237.8" y1="540.4" x2="237.8" y2="553" stroke-width="1.15"/>
<line x1="235" y1="540.4" x2="240.6" y2="540.4" stroke-width="1.25"/>
<line x1="235" y1="553" x2="240.6" y2="553" stroke-width="1.25"/>
</g>
<g stroke="#080808">
<circle cx="235.1" cy="536.8" r="2.35" fill="#080808" stroke="none"/>
<circle cx="240.6" cy="539.9" r="2.35" fill="#080808" stroke="none"/>
<circle cx="234.8" cy="552.5" r="2.35" fill="#080808" stroke="none"/>
<circle cx="237.6" cy="553.2" r="2.35" fill="#080808" stroke="none"/>
<circle cx="240.3" cy="551.9" r="2.35" fill="#080808" stroke="none"/>
</g>
<g stroke="#080808" fill="none">
<line x1="231.9" y1="547.5" x2="243.7" y2="547.5" stroke-width="1.3"/>
<line x1="237.8" y1="540.4" x2="237.8" y2="553" stroke-width="1.15"/>
</g>
<g stroke="#080808" fill="none">
</g>
<g stroke="#080808">
<circle cx="253.4" cy="543.7" r="1.9" fill="#fff" stroke-width="1.2"/>
<circle cx="258.9" cy="547" r="2.35" fill="#080808" stroke="none"/>
<circle cx="253.4" cy="549.7" r="1.9" fill="#fff" stroke-width="1.2"/>
<circle cx="257.6" cy="550.3" r="1.9" fill="#fff" stroke-width="1.2"/>
<circle cx="254.9" cy="553.2" r="1.9" fill="#fff" stroke-width="1.2"/>
</g>
<g stroke="#080808" fill="none">
<line x1="250.5" y1="548.4" x2="261.9" y2="548.4" stroke-width="1.3"/>
</g>
<g stroke="#080808" fill="none">
</g>
<g stroke="#080808">
<rect x="269.15" y="544.25" width="4.3" height="4.3" fill="#080808" stroke="none"/>
<rect x="276.25" y="544.25" width="4.3" height="4.3" fill="#080808" stroke="none"/>
<rect x="270.85" y="547.55" width="4.3" height="4.3" fill="#080808" stroke="none"/>
<rect x="274.05" y="547.55" width="4.3" height="4.3" fill="#080808" stroke="none"/>
<rect x="272.45" y="548.45" width="4.3" height="4.3" fill="#080808" stroke="none"/>
</g>
<g stroke="#080808" fill="none">
<line x1="269" y1="548.1" x2="280.2" y2="548.1" stroke-width="1.3"/>
</g>
<g stroke="#080808" fill="none">
<line x1="293.1" y1="503.5" x2="293.1" y2="531.2" stroke-width="1.15"/>
<line x1="289.8" y1="503.5" x2="296.4" y2="503.5" stroke-width="1.25"/>
<line x1="289.8" y1="531.2" x2="296.4" y2="531.2" stroke-width="1.25"/>
</g>
<g stroke="#080808">
<rect x="291.25" y="491.25" width="3.7" height="3.7" fill="#fff" stroke-width="1.25"/>
<rect x="287.95" y="514.55" width="3.7" height="3.7" fill="#fff" stroke-width="1.25"/>
<rect x="294.75" y="514.55" width="3.7" height="3.7" fill="#fff" stroke-width="1.25"/>
<rect x="291.25" y="514.55" width="3.7" height="3.7" fill="#fff" stroke-width="1.25"/>
<rect x="291.25" y="525.35" width="3.7" height="3.7" fill="#fff" stroke-width="1.25"/>
<rect x="291.25" y="532.35" width="3.7" height="3.7" fill="#fff" stroke-width="1.25"/>
</g>
<g stroke="#080808" fill="none">
<line x1="287" y1="516.4" x2="299.2" y2="516.4" stroke-width="1.3"/>
<line x1="293.1" y1="503.5" x2="293.1" y2="531.2" stroke-width="1.15"/>
</g>
<g stroke="#080808" fill="none">
<line x1="311.7" y1="503.5" x2="311.7" y2="535.3" stroke-width="1.15"/>
<line x1="308.4" y1="503.5" x2="315" y2="503.5" stroke-width="1.25"/>
<line x1="308.4" y1="535.3" x2="315" y2="535.3" stroke-width="1.25"/>
</g>
<g stroke="#080808">
<polygon points="311.7,497 314.3,501.3 309.1,501.3" fill="#080808" stroke="none"/>
<polygon points="311.7,505.7 314.3,510 309.1,510" fill="#080808" stroke="none"/>
<circle cx="311.7" cy="520.4" r="2.35" fill="#080808" stroke="none"/>
<polygon points="311.7,530.1 314.3,534.4 309.1,534.4" fill="#080808" stroke="none"/>
<polygon points="311.7,536.1 314.3,540.4 309.1,540.4" fill="#080808" stroke="none"/>
</g>
<g stroke="#080808" fill="none">
<line x1="305.2" y1="519.3" x2="318.2" y2="519.3" stroke-width="1.3"/>
<line x1="311.7" y1="503.5" x2="311.7" y2="535.3" stroke-width="1.15"/>
</g>
<g stroke="#080808" fill="none">
</g>
<g stroke="#080808">
<circle cx="326.9" cy="523.8" r="2.35" fill="#080808" stroke="none"/>
<circle cx="333.1" cy="527.2" r="2.35" fill="#080808" stroke="none"/>
<circle cx="329.6" cy="527.4" r="2.35" fill="#080808" stroke="none"/>
<circle cx="330" cy="535.3" r="2.35" fill="#080808" stroke="none"/>
<circle cx="333.1" cy="536.4" r="2.35" fill="#080808" stroke="none"/>
<circle cx="327.3" cy="541.4" r="2.35" fill="#080808" stroke="none"/>
</g>
<g stroke="#080808" fill="none">
<line x1="324.3" y1="531.9" x2="336.3" y2="531.9" stroke-width="1.3"/>
</g>
<g stroke="#080808" fill="none">
<line x1="258.1" y1="475.3" x2="311.5" y2="475.3" stroke-width="1.4"/>
<line x1="258.1" y1="473" x2="258.1" y2="477.6" stroke-width="1.2"/>
<line x1="311.5" y1="473" x2="311.5" y2="477.6" stroke-width="1.2"/>
</g>
<circle cx="281.2" cy="471.6" r="1.45" fill="#080808"/>
<circle cx="284.6" cy="471.6" r="1.45" fill="#080808"/>
<circle cx="288" cy="471.6" r="1.45" fill="#080808"/>
<g stroke="#080808" fill="none">
<line x1="258.1" y1="484" x2="292.8" y2="484" stroke-width="1.4"/>
<line x1="258.1" y1="481.7" x2="258.1" y2="486.3" stroke-width="1.2"/>
<line x1="292.8" y1="481.7" x2="292.8" y2="486.3" stroke-width="1.2"/>
</g>
<circle cx="269.8" cy="480.2" r="1.45" fill="#080808"/>
<circle cx="273.2" cy="480.2" r="1.45" fill="#080808"/>
<circle cx="276.6" cy="480.2" r="1.45" fill="#080808"/>
<circle cx="280" cy="480.2" r="1.45" fill="#080808"/>
<g stroke="#080808" fill="none">
<line x1="311.5" y1="490" x2="329.6" y2="490" stroke-width="1.4"/>
<line x1="311.5" y1="487.7" x2="311.5" y2="492.3" stroke-width="1.2"/>
<line x1="329.6" y1="487.7" x2="329.6" y2="492.3" stroke-width="1.2"/>
</g>
<text x="320.9" y="487.26" font-size="6.3" text-anchor="middle" font-weight="bold" textLength="11" lengthAdjust="spacingAndGlyphs" style="stroke-width:0.2px">N.S.</text>
</svg>
</body></html>
